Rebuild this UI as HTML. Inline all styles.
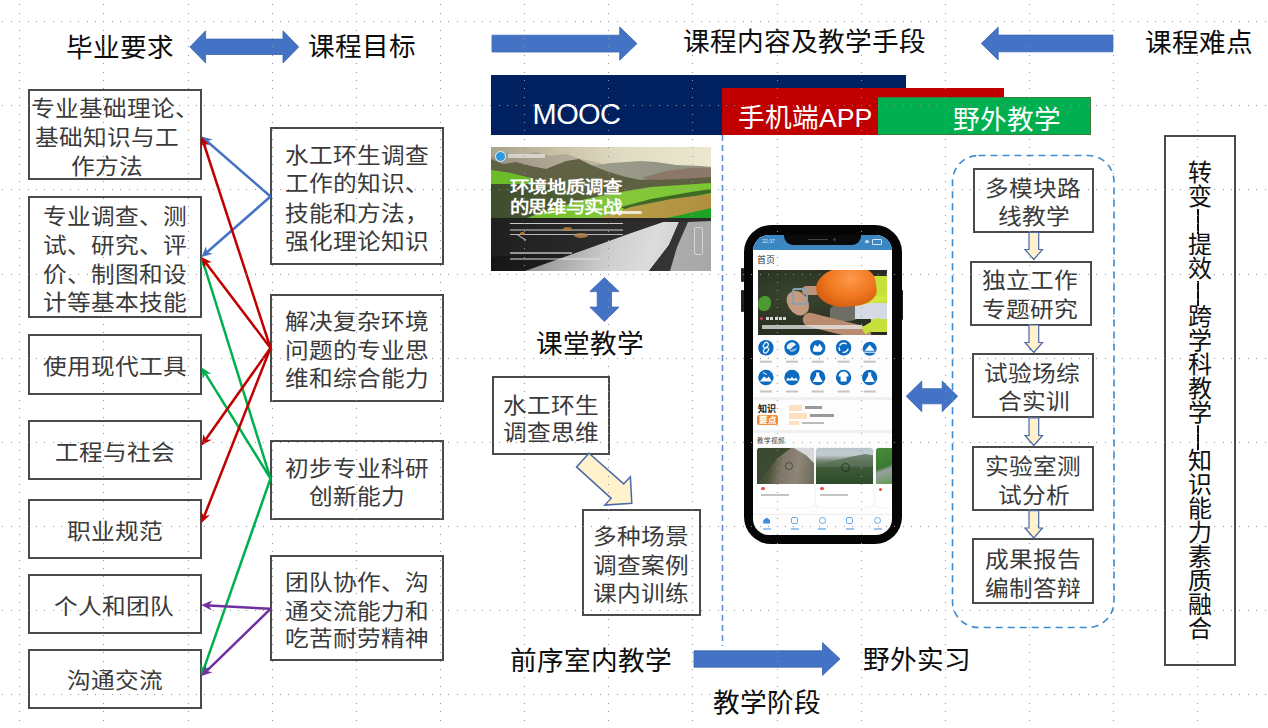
<!DOCTYPE html>
<html lang="zh-CN"><head><meta charset="utf-8"><title>课程设计</title>
<style>
html,body{margin:0;padding:0;background:#fff;width:1268px;height:728px;overflow:hidden}
body{position:relative;font-family:'Liberation Sans',sans-serif}
.t{position:absolute;line-height:1;white-space:nowrap}
</style></head><body>
<div class="t" style="left:66.0px;top:34.5px;font-size:26.67px;font-family:'Liberation Sans',sans-serif;color:#0d0d0d;">毕业要求</div><div class="t" style="left:308.0px;top:34.0px;font-size:26.67px;font-family:'Liberation Sans',sans-serif;color:#0d0d0d;">课程目标</div><div class="t" style="left:683.0px;top:28.5px;font-size:26.67px;font-family:'Liberation Sans',sans-serif;color:#0d0d0d;">课程内容及教学手段</div><div class="t" style="left:1145.0px;top:30.0px;font-size:26.67px;font-family:'Liberation Sans',sans-serif;color:#0d0d0d;">课程难点</div><div class="t" style="left:536.0px;top:331.0px;font-size:26.67px;font-family:'Liberation Sans',sans-serif;color:#0d0d0d;">课堂教学</div><div class="t" style="left:510.0px;top:648.0px;font-size:26.67px;font-family:'Liberation Sans',sans-serif;color:#0d0d0d;">前序室内教学</div><div class="t" style="left:863.0px;top:647.0px;font-size:26.67px;font-family:'Liberation Sans',sans-serif;color:#0d0d0d;">野外实习</div><div class="t" style="left:713.0px;top:690.0px;font-size:26.67px;font-family:'Liberation Sans',sans-serif;color:#0d0d0d;">教学阶段</div><div style="position:absolute;left:28px;top:89px;width:174px;height:91px;box-sizing:border-box;border:2px solid #4a4a4a;background:transparent"></div><div style="position:absolute;left:28px;top:196px;width:174px;height:122px;box-sizing:border-box;border:2px solid #4a4a4a;background:transparent"></div><div style="position:absolute;left:28px;top:334px;width:174px;height:61px;box-sizing:border-box;border:2px solid #4a4a4a;background:transparent"></div><div style="position:absolute;left:28px;top:420px;width:174px;height:60px;box-sizing:border-box;border:2px solid #4a4a4a;background:transparent"></div><div style="position:absolute;left:28px;top:499px;width:174px;height:60px;box-sizing:border-box;border:2px solid #4a4a4a;background:transparent"></div><div style="position:absolute;left:28px;top:574px;width:174px;height:60px;box-sizing:border-box;border:2px solid #4a4a4a;background:transparent"></div><div style="position:absolute;left:28px;top:649px;width:174px;height:60px;box-sizing:border-box;border:2px solid #4a4a4a;background:transparent"></div><div class="t" style="left:31.0px;top:97.9px;font-size:23.7px;font-family:'Liberation Serif',serif;color:#3a3a3a;transform:scaleY(0.92);transform-origin:0 11px">专业基础理论、</div><div class="t" style="left:35.2px;top:126.7px;font-size:23.7px;font-family:'Liberation Serif',serif;color:#3a3a3a;transform:scaleY(0.92);transform-origin:0 11px">基础知识与工</div><div class="t" style="left:70.8px;top:155.8px;font-size:23.7px;font-family:'Liberation Serif',serif;color:#3a3a3a;transform:scaleY(0.92);transform-origin:0 11px">作方法</div><div class="t" style="left:42.8px;top:206.1px;font-size:23.7px;font-family:'Liberation Serif',serif;color:#3a3a3a;transform:scaleY(0.92);transform-origin:0 11px">专业调查、测</div><div class="t" style="left:42.8px;top:234.6px;font-size:23.7px;font-family:'Liberation Serif',serif;color:#3a3a3a;transform:scaleY(0.92);transform-origin:0 11px">试、研究、评</div><div class="t" style="left:42.8px;top:263.7px;font-size:23.7px;font-family:'Liberation Serif',serif;color:#3a3a3a;transform:scaleY(0.92);transform-origin:0 11px">价、制图和设</div><div class="t" style="left:42.8px;top:292.3px;font-size:23.7px;font-family:'Liberation Serif',serif;color:#3a3a3a;transform:scaleY(0.92);transform-origin:0 11px">计等基本技能</div><div class="t" style="left:43.0px;top:356.1px;font-size:23.7px;font-family:'Liberation Serif',serif;color:#3a3a3a;transform:scaleY(0.92);transform-origin:0 11px">使用现代工具</div><div class="t" style="left:55.1px;top:441.8px;font-size:23.7px;font-family:'Liberation Serif',serif;color:#3a3a3a;transform:scaleY(0.92);transform-origin:0 11px">工程与社会</div><div class="t" style="left:66.6px;top:520.6px;font-size:23.7px;font-family:'Liberation Serif',serif;color:#3a3a3a;transform:scaleY(0.92);transform-origin:0 11px">职业规范</div><div class="t" style="left:54.2px;top:596.3px;font-size:23.7px;font-family:'Liberation Serif',serif;color:#3a3a3a;transform:scaleY(0.92);transform-origin:0 11px">个人和团队</div><div class="t" style="left:66.6px;top:669.6px;font-size:23.7px;font-family:'Liberation Serif',serif;color:#3a3a3a;transform:scaleY(0.92);transform-origin:0 11px">沟通交流</div><div style="position:absolute;left:270px;top:127px;width:174px;height:138px;box-sizing:border-box;border:2px solid #4a4a4a;background:transparent"></div><div style="position:absolute;left:270px;top:294px;width:174px;height:108px;box-sizing:border-box;border:2px solid #4a4a4a;background:transparent"></div><div style="position:absolute;left:270px;top:440px;width:174px;height:80px;box-sizing:border-box;border:2px solid #4a4a4a;background:transparent"></div><div style="position:absolute;left:270px;top:555px;width:174px;height:106px;box-sizing:border-box;border:2px solid #4a4a4a;background:transparent"></div><div class="t" style="left:284.8px;top:145.2px;font-size:23.7px;font-family:'Liberation Serif',serif;color:#3a3a3a;transform:scaleY(0.92);transform-origin:0 11px">水工环生调查</div><div class="t" style="left:284.8px;top:173.4px;font-size:23.7px;font-family:'Liberation Serif',serif;color:#3a3a3a;transform:scaleY(0.92);transform-origin:0 11px">工作的知识、</div><div class="t" style="left:284.8px;top:202.5px;font-size:23.7px;font-family:'Liberation Serif',serif;color:#3a3a3a;transform:scaleY(0.92);transform-origin:0 11px">技能和方法，</div><div class="t" style="left:284.8px;top:230.8px;font-size:23.7px;font-family:'Liberation Serif',serif;color:#3a3a3a;transform:scaleY(0.92);transform-origin:0 11px">强化理论知识</div><div class="t" style="left:284.8px;top:310.7px;font-size:23.7px;font-family:'Liberation Serif',serif;color:#3a3a3a;transform:scaleY(0.92);transform-origin:0 11px">解决复杂环境</div><div class="t" style="left:284.8px;top:339.6px;font-size:23.7px;font-family:'Liberation Serif',serif;color:#3a3a3a;transform:scaleY(0.92);transform-origin:0 11px">问题的专业思</div><div class="t" style="left:284.8px;top:368.0px;font-size:23.7px;font-family:'Liberation Serif',serif;color:#3a3a3a;transform:scaleY(0.92);transform-origin:0 11px">维和综合能力</div><div class="t" style="left:285.4px;top:457.7px;font-size:23.7px;font-family:'Liberation Serif',serif;color:#3a3a3a;transform:scaleY(0.92);transform-origin:0 11px">初步专业科研</div><div class="t" style="left:309.4px;top:486.1px;font-size:23.7px;font-family:'Liberation Serif',serif;color:#3a3a3a;transform:scaleY(0.92);transform-origin:0 11px">创新能力</div><div class="t" style="left:285.4px;top:571.5px;font-size:23.7px;font-family:'Liberation Serif',serif;color:#3a3a3a;transform:scaleY(0.92);transform-origin:0 11px">团队协作、沟</div><div class="t" style="left:285.4px;top:600.5px;font-size:23.7px;font-family:'Liberation Serif',serif;color:#3a3a3a;transform:scaleY(0.92);transform-origin:0 11px">通交流能力和</div><div class="t" style="left:285.4px;top:628.4px;font-size:23.7px;font-family:'Liberation Serif',serif;color:#3a3a3a;transform:scaleY(0.92);transform-origin:0 11px">吃苦耐劳精神</div><div style="position:absolute;left:492px;top:376px;width:118px;height:79px;box-sizing:border-box;border:2px solid #4a4a4a;background:transparent"></div><div class="t" style="left:503.1px;top:394.7px;font-size:23.7px;font-family:'Liberation Serif',serif;color:#3a3a3a;transform:scaleY(0.92);transform-origin:0 11px">水工环生</div><div class="t" style="left:503.1px;top:422.4px;font-size:23.7px;font-family:'Liberation Serif',serif;color:#3a3a3a;transform:scaleY(0.92);transform-origin:0 11px">调查思维</div><div style="position:absolute;left:582px;top:509px;width:119px;height:107px;box-sizing:border-box;border:2px solid #4a4a4a;background:transparent"></div><div class="t" style="left:593.2px;top:525.9px;font-size:23.7px;font-family:'Liberation Serif',serif;color:#3a3a3a;transform:scaleY(0.92);transform-origin:0 11px">多种场景</div><div class="t" style="left:593.2px;top:554.9px;font-size:23.7px;font-family:'Liberation Serif',serif;color:#3a3a3a;transform:scaleY(0.92);transform-origin:0 11px">调查案例</div><div class="t" style="left:593.2px;top:582.8px;font-size:23.7px;font-family:'Liberation Serif',serif;color:#3a3a3a;transform:scaleY(0.92);transform-origin:0 11px">课内训练</div><div style="position:absolute;left:973px;top:168px;width:121px;height:65px;box-sizing:border-box;border:2px solid #4a4a4a;background:transparent"></div><div style="position:absolute;left:970px;top:261px;width:122px;height:65px;box-sizing:border-box;border:2px solid #4a4a4a;background:transparent"></div><div style="position:absolute;left:972px;top:353px;width:122px;height:65px;box-sizing:border-box;border:2px solid #4a4a4a;background:transparent"></div><div style="position:absolute;left:972px;top:446px;width:122px;height:65px;box-sizing:border-box;border:2px solid #4a4a4a;background:transparent"></div><div style="position:absolute;left:972px;top:538px;width:122px;height:66px;box-sizing:border-box;border:2px solid #4a4a4a;background:transparent"></div><div class="t" style="left:985.2px;top:178.0px;font-size:23.7px;font-family:'Liberation Serif',serif;color:#3a3a3a;transform:scaleY(0.92);transform-origin:0 11px">多模块路</div><div class="t" style="left:997.6px;top:205.5px;font-size:23.7px;font-family:'Liberation Serif',serif;color:#3a3a3a;transform:scaleY(0.92);transform-origin:0 11px">线教学</div><div class="t" style="left:982.4px;top:270.1px;font-size:23.7px;font-family:'Liberation Serif',serif;color:#3a3a3a;transform:scaleY(0.92);transform-origin:0 11px">独立工作</div><div class="t" style="left:982.4px;top:299.0px;font-size:23.7px;font-family:'Liberation Serif',serif;color:#3a3a3a;transform:scaleY(0.92);transform-origin:0 11px">专题研究</div><div class="t" style="left:984.3px;top:363.0px;font-size:23.7px;font-family:'Liberation Serif',serif;color:#3a3a3a;transform:scaleY(0.92);transform-origin:0 11px">试验场综</div><div class="t" style="left:997.8px;top:390.7px;font-size:23.7px;font-family:'Liberation Serif',serif;color:#3a3a3a;transform:scaleY(0.92);transform-origin:0 11px">合实训</div><div class="t" style="left:984.7px;top:455.8px;font-size:23.7px;font-family:'Liberation Serif',serif;color:#3a3a3a;transform:scaleY(0.92);transform-origin:0 11px">实验室测</div><div class="t" style="left:998.0px;top:484.9px;font-size:23.7px;font-family:'Liberation Serif',serif;color:#3a3a3a;transform:scaleY(0.92);transform-origin:0 11px">试分析</div><div class="t" style="left:984.7px;top:548.6px;font-size:23.7px;font-family:'Liberation Serif',serif;color:#3a3a3a;transform:scaleY(0.92);transform-origin:0 11px">成果报告</div><div class="t" style="left:984.7px;top:577.7px;font-size:23.7px;font-family:'Liberation Serif',serif;color:#3a3a3a;transform:scaleY(0.92);transform-origin:0 11px">编制答辩</div><div style="position:absolute;left:1164px;top:135px;width:72px;height:531px;box-sizing:border-box;border:2px solid #4a4a4a;background:transparent"></div><div class="t" style="left:1188.0px;top:161.0px;font-size:24px;font-family:'Liberation Sans',sans-serif;color:#111;">转</div><div class="t" style="left:1188.0px;top:185.0px;font-size:24px;font-family:'Liberation Sans',sans-serif;color:#111;">变</div><div style="position:absolute;left:1196.6px;top:208.5px;width:2px;height:25.5px;background:#111"></div><div class="t" style="left:1188.0px;top:233.0px;font-size:24px;font-family:'Liberation Sans',sans-serif;color:#111;">提</div><div class="t" style="left:1188.0px;top:257.0px;font-size:24px;font-family:'Liberation Sans',sans-serif;color:#111;">效</div><div style="position:absolute;left:1196.6px;top:280.5px;width:2px;height:25.5px;background:#111"></div><div class="t" style="left:1188.0px;top:305.0px;font-size:24px;font-family:'Liberation Sans',sans-serif;color:#111;">跨</div><div class="t" style="left:1188.0px;top:329.0px;font-size:24px;font-family:'Liberation Sans',sans-serif;color:#111;">学</div><div class="t" style="left:1188.0px;top:353.0px;font-size:24px;font-family:'Liberation Sans',sans-serif;color:#111;">科</div><div class="t" style="left:1188.0px;top:377.0px;font-size:24px;font-family:'Liberation Sans',sans-serif;color:#111;">教</div><div class="t" style="left:1188.0px;top:401.0px;font-size:24px;font-family:'Liberation Sans',sans-serif;color:#111;">学</div><div style="position:absolute;left:1196.6px;top:424.5px;width:2px;height:25.5px;background:#111"></div><div class="t" style="left:1188.0px;top:449.0px;font-size:24px;font-family:'Liberation Sans',sans-serif;color:#111;">知</div><div class="t" style="left:1188.0px;top:473.0px;font-size:24px;font-family:'Liberation Sans',sans-serif;color:#111;">识</div><div class="t" style="left:1188.0px;top:497.0px;font-size:24px;font-family:'Liberation Sans',sans-serif;color:#111;">能</div><div class="t" style="left:1188.0px;top:521.0px;font-size:24px;font-family:'Liberation Sans',sans-serif;color:#111;">力</div><div class="t" style="left:1188.0px;top:545.0px;font-size:24px;font-family:'Liberation Sans',sans-serif;color:#111;">素</div><div class="t" style="left:1188.0px;top:569.0px;font-size:24px;font-family:'Liberation Sans',sans-serif;color:#111;">质</div><div class="t" style="left:1188.0px;top:593.0px;font-size:24px;font-family:'Liberation Sans',sans-serif;color:#111;">融</div><div class="t" style="left:1188.0px;top:617.0px;font-size:24px;font-family:'Liberation Sans',sans-serif;color:#111;">合</div><div style="position:absolute;left:490.7px;top:75.3px;width:415.8px;height:59.4px;background:#002060"></div><div style="position:absolute;left:721.5px;top:87.6px;width:282.3px;height:47.1px;background:#C00000"></div><div style="position:absolute;left:878px;top:96.8px;width:212.8px;height:37.9px;background:#00B050;box-sizing:border-box;border:1px solid #3d7d3a;border-left:none"></div><div class="t" style="left:532.6px;top:99.6px;font-size:29px;font-family:'Liberation Sans',sans-serif;color:#fff;letter-spacing:-0.6px">MOOC</div><div class="t" style="left:738.0px;top:104.5px;font-size:26.67px;font-family:'Liberation Sans',sans-serif;color:#fff;">手机端APP</div><div class="t" style="left:953.0px;top:107.0px;font-size:26.67px;font-family:'Liberation Sans',sans-serif;color:#fff;">野外教学</div>
<div style="position:absolute;left:491px;top:147px;width:220px;height:124px;overflow:hidden;background:#2a2a2a">
 <div style="position:absolute;left:0;top:0;width:220px;height:40px;background:linear-gradient(90deg,#a9a28c 0%,#c9c0a6 30%,#e0dcc4 60%,#ece8d0 100%)"></div>
 <div style="position:absolute;left:0;top:0;width:220px;height:124px;background:linear-gradient(90deg,#9a9282,#c6bca8 60%,#b8b2a0);clip-path:polygon(0.0px 10.0px,15.0px 6.0px,30.0px 8.0px,45.0px 5.0px,60.0px 9.0px,75.0px 7.0px,90.0px 12.0px,110.0px 16.0px,110.0px 30.0px,0.0px 30.0px);"></div>
 <div style="position:absolute;left:0;top:0;width:220px;height:124px;background:linear-gradient(90deg,#a8a692,#9a9a8a 60%,#8e8e80);clip-path:polygon(90.0px 20.0px,120.0px 16.0px,150.0px 14.0px,165.0px 15.0px,185.0px 18.0px,210.0px 19.0px,220.0px 20.0px,220.0px 40.0px,90.0px 40.0px);"></div>
 <div style="position:absolute;left:0;top:0;width:220px;height:124px;background:linear-gradient(#646446 0%,#5a6040 40%,#4e5a36 100%);clip-path:polygon(0.0px 12.0px,12.0px 17.0px,25.0px 15.0px,40.0px 19.0px,55.0px 22.0px,75.0px 14.0px,88.0px 12.0px,100.0px 18.0px,115.0px 24.0px,135.0px 30.0px,150.0px 33.0px,175.0px 31.0px,200.0px 28.0px,220.0px 30.0px,220.0px 74.0px,0.0px 74.0px);"></div>
 <div style="position:absolute;left:0;top:0;width:220px;height:124px;background:#8c7868;clip-path:polygon(150.0px 31.0px,175.0px 24.0px,200.0px 21.0px,220.0px 21.0px,220.0px 30.0px,190.0px 32.0px,165.0px 33.0px);"></div>
 <div style="position:absolute;left:0;top:0;width:220px;height:124px;background:#6cbc2a;clip-path:polygon(0.0px 23.0px,20.0px 26.0px,40.0px 31.0px,44.0px 37.0px,0.0px 37.0px);"></div>
 <div style="position:absolute;left:0;top:0;width:220px;height:124px;background:linear-gradient(90deg,#3e4c2c,#56643a 50%,#6a7a34);clip-path:polygon(0.0px 37.0px,44.0px 37.0px,80.0px 45.0px,120.0px 52.0px,120.0px 72.0px,0.0px 71.0px);"></div>
 <div style="position:absolute;left:0;top:0;width:220px;height:124px;background:linear-gradient(90deg,#6cb82c,#84c83a 60%,#7cc634);clip-path:polygon(28.0px 74.0px,60.0px 62.0px,95.0px 52.0px,130.0px 45.0px,160.0px 40.0px,220.0px 36.0px,220.0px 74.0px);"></div>
 <div style="position:absolute;left:0;top:0;width:220px;height:124px;background:#3e6a26;clip-path:polygon(130.0px 60.0px,160.0px 52.0px,200.0px 45.0px,220.0px 42.0px,220.0px 46.0px,200.0px 50.0px,165.0px 57.0px,135.0px 63.0px);"></div>
 <div style="position:absolute;left:0;top:0;width:220px;height:124px;background:linear-gradient(90deg,#a89a3e,#b8a048 50%,#b09040);clip-path:polygon(100.0px 74.0px,140.0px 60.0px,180.0px 52.0px,220.0px 47.0px,220.0px 66.0px,190.0px 72.0px,170.0px 75.0px);"></div>
 <div style="position:absolute;left:0;top:0;width:220px;height:124px;background:#1ea424;clip-path:polygon(160.0px 74.0px,190.0px 68.0px,220.0px 61.0px,220.0px 74.0px);"></div>
 <div style="position:absolute;left:0;top:71px;width:220px;height:53px;background:linear-gradient(90deg,#161616,#232323 45%,#2e2e2e)"></div>
 <div style="position:absolute;left:0;top:0;width:220px;height:124px;background:linear-gradient(110deg,#5a5a5a 0%,#9a9a9a 35%,#cfcfcf 60%,#dcdcdc 75%,#bdbdbd 100%);clip-path:polygon(34.0px 124.0px,158.0px 124.0px,178.0px 98.0px,188.0px 75.0px,172.0px 75.0px,140.0px 86.0px,90.0px 104.0px);"></div>
 <div style="position:absolute;left:0;top:0;width:220px;height:124px;background:linear-gradient(90deg,#1c1c1c,#3a3a3a);clip-path:polygon(158.0px 124.0px,179.0px 124.0px,186.0px 100.0px,197.0px 75.0px,188.0px 75.0px,178.0px 98.0px);"></div>
 <div style="position:absolute;left:0;top:0;width:220px;height:124px;background:linear-gradient(100deg,#8a8a8a,#b4b4b4 50%,#a8a8a8);clip-path:polygon(179.0px 124.0px,220.0px 124.0px,220.0px 74.0px,197.0px 75.0px,186.0px 100.0px);"></div>
 <div style="position:absolute;left:0;top:0;width:220px;height:124px;background:linear-gradient(90deg,#262626,#353535);clip-path:polygon(0.0px 71.0px,172.0px 75.0px,140.0px 86.0px,90.0px 104.0px,0.0px 110.0px);opacity:.6"></div>
 <div style="position:absolute;left:4px;top:4px;width:9px;height:9px;border-radius:50%;background:#2f9ad8;border:1px solid #e8f4ff"></div>
 <div style="position:absolute;left:16.5px;top:7px;width:37px;height:4px;background:rgba(255,255,255,.55)"></div>
 <div style="position:absolute;left:18.5px;top:30.5px;font-family:'Liberation Sans',sans-serif;font-size:19.4px;line-height:22.6px;font-weight:bold;color:#fff;white-space:nowrap;letter-spacing:-0.3px;transform:scaleY(0.86);transform-origin:0 0">环境地质调查<br>的思维与实战</div>
 <div style="position:absolute;left:121px;top:64px;width:30px;height:2.5px;background:rgba(255,255,255,.75);border-radius:2px"></div>
 <div style="position:absolute;left:19px;top:76px;width:113px;height:1px;background:#c8c8c8"></div>
 <div style="position:absolute;left:19px;top:81.5px;width:113px;height:2px;background:rgba(210,210,210,.5)"></div>
 <div style="position:absolute;left:19px;top:87px;width:113px;height:1px;background:#b8b8b8"></div>
 <div style="position:absolute;left:26px;top:87px;width:11px;height:1px;background:#bbb;transform:rotate(32deg);transform-origin:0 0"></div>
 <div style="position:absolute;left:19px;top:105px;width:62px;height:2px;background:rgba(225,225,225,.6)"></div>
 <div style="position:absolute;left:19px;top:110.5px;width:90px;height:2px;background:rgba(225,225,225,.5)"></div>
 <div style="position:absolute;left:203px;top:80px;width:7px;height:26px;border:1px solid rgba(235,235,235,.65);border-radius:2px"></div>
 <div style="position:absolute;left:72px;top:80px;width:9px;height:4px;background:#b88040;border-radius:50%;opacity:.8"></div>
 <div style="position:absolute;left:83px;top:86px;width:14px;height:5px;background:#c08a48;border-radius:50%;opacity:.8"></div>
 <div style="position:absolute;left:29px;top:85px;width:5px;height:3px;background:#b88040;border-radius:50%"></div>
</div>

<div style="position:absolute;left:741px;top:268px;width:3px;height:14px;background:#222;border-radius:1px"></div>
<div style="position:absolute;left:741px;top:290px;width:3px;height:22px;background:#222;border-radius:1px"></div>
<div style="position:absolute;left:900px;top:290px;width:3px;height:30px;background:#222;border-radius:1px"></div>
<div style="position:absolute;left:743.5px;top:224.7px;width:158px;height:319.5px;border-radius:27px;background:#050505"></div>
<div style="position:absolute;left:753.3px;top:234.5px;width:138.4px;height:300.8px;border-radius:16px;background:#fdfdfd;overflow:hidden">
 <div style="position:absolute;left:0;top:0;width:139px;height:15.5px;background:#3b87c2"></div>
 <div style="position:absolute;left:31px;top:-2px;width:77px;height:12.7px;background:#0a0a0a;border-radius:0 0 9px 9px"></div>
 <div style="position:absolute;left:55px;top:4px;width:20px;height:1.5px;background:#444"></div>
 <div style="position:absolute;left:80px;top:3px;width:3px;height:3px;border-radius:50%;background:#335"></div>
 <div style="position:absolute;left:9px;top:4px;font-family:'Liberation Sans',sans-serif;font-size:5px;line-height:1;color:rgba(255,255,255,.85);white-space:nowrap">22:37</div>
 <div style="position:absolute;left:112px;top:5px;width:4px;height:3px;border-radius:3px 3px 0 0;background:rgba(255,255,255,.7)"></div><div style="position:absolute;left:119px;top:4.5px;width:8px;height:4px;border:0.8px solid rgba(255,255,255,.8);border-radius:1px"></div>
 <div style="position:absolute;left:4px;top:21px;font-family:'Liberation Sans',sans-serif;font-size:9px;line-height:1;color:#333;white-space:nowrap">首页</div>
 <div style="position:absolute;left:4.4px;top:35.6px;width:129.3px;height:64.7px;overflow:hidden;background:radial-gradient(ellipse at 30% 40%,#3a4630,#2a3222 60%,#252b20)">
  <div style="position:absolute;left:0;top:26px;width:13px;height:15px;background:#4c9a32;border-radius:50% 40% 50% 40%"></div>
  <div style="position:absolute;left:72px;top:35px;width:28px;height:16px;background:#6e6e66;border-radius:30%"></div>
  <div style="position:absolute;left:45px;top:41px;width:70px;height:14px;background:#b98c72;border-radius:8px;transform:rotate(14deg);transform-origin:0 50%"></div>
  <div style="position:absolute;left:30px;top:20px;width:20px;height:26px;background:#c49a80;border-radius:45% 55% 50% 50%;transform:rotate(-30deg)"></div>
  <div style="position:absolute;left:44px;top:16px;width:18px;height:9px;background:#c09478;border-radius:5px"></div>
  <div style="position:absolute;left:34px;top:18px;width:12px;height:13px;border:2px solid #8aa0b0;border-radius:3px"></div>
  <div style="position:absolute;left:113px;top:6px;width:17px;height:56px;background:#c6e03c"></div>
  <div style="position:absolute;left:97px;top:33px;width:33px;height:16px;background:#d6dae6"></div>
  <div style="position:absolute;left:96px;top:28px;width:34px;height:5px;background:#d0e840;transform:rotate(-12deg)"></div>
  <div style="position:absolute;left:104px;top:52px;width:20px;height:8px;background:#c6e03c;transform:rotate(-30deg)"></div>
  <div style="position:absolute;left:58px;top:-3px;width:60px;height:40px;border-radius:50% 45% 35% 55%;background:radial-gradient(ellipse at 60% 30%,#ff9a4a,#f07820 45%,#d05a10 80%);transform:rotate(-8deg)"></div>
  <div style="position:absolute;left:2px;top:47px;width:3px;height:3px;border-radius:50%;background:#e04050"></div>
  <div style="position:absolute;left:8px;top:47px;width:20px;height:3px;background:repeating-linear-gradient(90deg,rgba(255,255,255,.8) 0 3px,transparent 3px 4.3px)"></div>
  <div style="position:absolute;left:4px;top:55px;width:100px;height:4px;background:rgba(235,235,235,.75)"></div>
 </div>
<svg width="139" height="160" style="position:absolute;left:0;top:0"><circle cx="12.9" cy="112.7" r="7.7" fill="#0b6bc0"/><g transform="translate(12.9,112.7)"><g fill="none" stroke="#fff" stroke-width="1.3" opacity=".9"><rect x="-3.5" y="-5" width="4" height="6" rx="2" transform="rotate(35)"/><rect x="-0.5" y="-1" width="4" height="6" rx="2" transform="rotate(35)"/></g></g><rect x="6.9" y="125.7" width="12" height="2" fill="#c4c4c4"/><circle cx="39.0" cy="112.7" r="7.7" fill="#0b6bc0"/><g transform="translate(39.0,112.7)"><g fill="#fff" opacity=".9"><path d="M-5 1 A5 5 0 0 1 4 -3 L1 -1 L-2 2 Z"/><path d="M-3 3 A5 5 0 0 0 5 0 L2 1 Z" opacity=".6"/></g></g><rect x="33.0" y="125.7" width="12" height="2" fill="#c4c4c4"/><circle cx="64.7" cy="112.7" r="7.7" fill="#0b6bc0"/><g transform="translate(64.7,112.7)"><path d="M-5 2 L-3 -3 L0 -1 L2 -4 L5 1 L3 4 L-4 4 Z" fill="#fff"/></g><rect x="58.7" y="125.7" width="12" height="2" fill="#c4c4c4"/><circle cx="90.6" cy="112.7" r="7.7" fill="#0b6bc0"/><g transform="translate(90.6,112.7)"><g fill="none" stroke="#fff" stroke-width="1.4"><path d="M-4 -2 A4.5 4.5 0 0 1 3 -3.5"/><path d="M4.5 1 A4.5 4.5 0 0 1 -1 4.5"/><path d="M-3.5 3 A4.5 4.5 0 0 1 -4.5 -0.5"/></g></g><rect x="84.6" y="125.7" width="12" height="2" fill="#c4c4c4"/><circle cx="116.7" cy="113.7" r="7.0" fill="#0b6bc0"/><g transform="translate(116.7,113.7)"><g fill="#fff"><path d="M-5 2 L0 -4 L5 2 Z"/><rect x="-6" y="3" width="12" height="1"/></g></g><rect x="110.7" y="125.7" width="12" height="2" fill="#c4c4c4"/><circle cx="12.9" cy="142.5" r="7.7" fill="#0b6bc0"/><g transform="translate(12.9,142.5)"><g fill="#fff"><path d="M-6 4 L-2 -1 L1 1 L3 -1 L6 4 Z"/><path d="M-3 -5 L1 -3" stroke="#fff" stroke-width="1"/></g></g><rect x="6.9" y="155.5" width="12" height="2" fill="#c4c4c4"/><circle cx="39.0" cy="142.5" r="7.7" fill="#0b6bc0"/><g transform="translate(39.0,142.5)"><path d="M-6 3 Q-4 -2 -2 2 Q0 -3 2 2 Q4 -2 6 3 Z" fill="#fff"/></g><rect x="33.0" y="155.5" width="12" height="2" fill="#c4c4c4"/><circle cx="64.7" cy="142.5" r="7.7" fill="#0b6bc0"/><g transform="translate(64.7,142.5)"><path d="M-1.5 -5 h3 v3 L5 4.5 h-10 L-1.5 -2 Z" fill="#fff"/></g><rect x="58.7" y="155.5" width="12" height="2" fill="#c4c4c4"/><circle cx="90.6" cy="142.5" r="7.7" fill="#0b6bc0"/><g transform="translate(90.6,142.5)"><g fill="#fff"><path d="M-5 -1 A5 5 0 0 1 5 -1 L3 -1 L3 4 L-3 4 L-3 -1 Z"/></g></g><rect x="84.6" y="155.5" width="12" height="2" fill="#c4c4c4"/><circle cx="116.7" cy="142.5" r="7.7" fill="#0b6bc0"/><g transform="translate(116.7,142.5)"><path d="M-1.5 -5 h3 v3 L5 4.5 h-10 L-1.5 -2 Z" fill="#fff"/></g><rect x="110.7" y="155.5" width="12" height="2" fill="#c4c4c4"/></svg>
 <div style="position:absolute;left:0;top:162px;width:139px;height:3px;background:#eef0f3"></div>
 <div style="position:absolute;left:5px;top:170px;font-family:'Liberation Sans',sans-serif;font-size:9px;font-weight:bold;line-height:1;color:#222;white-space:nowrap">知识</div>
 <div style="position:absolute;left:4px;top:180px;width:21px;height:10px;background:#f08a30;border-radius:2px"></div><div style="position:absolute;left:6px;top:181px;font-family:'Liberation Sans',sans-serif;font-size:8.5px;font-weight:bold;line-height:1;color:#fff;white-space:nowrap">要点</div>
 <div style="position:absolute;left:36px;top:170px;width:13px;height:6px;background:#fde0c0"></div>
 <div style="position:absolute;left:52px;top:171px;width:17px;height:3px;background:#999"></div>
 <div style="position:absolute;left:36px;top:178px;width:18px;height:6px;background:#fde0c0"></div>
 <div style="position:absolute;left:57px;top:179px;width:24px;height:3px;background:#999"></div>
 <div style="position:absolute;left:36px;top:186px;width:10px;height:4px;background:#fde0c0"></div>
 <div style="position:absolute;left:49px;top:187px;width:22px;height:2px;background:#bbb"></div>
 <div style="position:absolute;left:0;top:195px;width:139px;height:3px;background:#eef0f3"></div>
 <div style="position:absolute;left:4px;top:203px;font-family:'Liberation Sans',sans-serif;font-size:6.5px;line-height:1;color:#444;white-space:nowrap">教学视频</div>
 <div style="position:absolute;left:4.2px;top:213px;width:56.5px;height:59px;border-radius:3px;background:#fff;box-shadow:0 0 1px #bbb;overflow:hidden">
  <div style="position:absolute;left:0;top:0;width:57px;height:36px;background:linear-gradient(100deg,#3a4630 0%,#4a5238 25%,#7f766a 45%,#8e8678 70%,#6a6a5a 100%)"></div>
  <div style="position:absolute;left:0;top:0;width:57px;height:36px;background:#3c4a32;clip-path:polygon(0 0,60% 0,35% 30%,20% 60%,0 100%)"></div>
  <div style="position:absolute;left:30px;top:0;width:27px;height:16px;background:#d6dadc;clip-path:polygon(20% 0,100% 0,100% 100%,70% 50%)"></div>
  <div style="position:absolute;left:28px;top:14px;width:6px;height:6px;border-radius:50%;border:1px solid rgba(40,40,40,.6)"></div>
  <div style="position:absolute;left:4px;top:39px;width:3.5px;height:3.5px;border-radius:50%;background:#f05050"></div>
  <div style="position:absolute;left:4px;top:46px;width:28px;height:2px;background:#c4c4c4"></div>
 </div>
 <div style="position:absolute;left:63.2px;top:213px;width:56.5px;height:59px;border-radius:3px;background:#fff;box-shadow:0 0 1px #bbb;overflow:hidden">
  <div style="position:absolute;left:0;top:0;width:57px;height:36px;background:linear-gradient(#b8c4cc 0%,#c4ccd0 20%,#7a8a78 35%,#3e5a38 55%,#2c4a28 100%)"></div>
  <div style="position:absolute;left:0;top:5px;width:57px;height:14px;background:#5a7058;clip-path:polygon(0 90%,30% 60%,60% 30%,85% 10%,100% 20%,100% 100%,0 100%);opacity:.8"></div>
  <div style="position:absolute;left:25px;top:15px;width:7px;height:7px;border-radius:50%;border:1px solid rgba(20,20,20,.6)"></div>
  <div style="position:absolute;left:4px;top:39px;width:3.5px;height:3.5px;border-radius:50%;background:#f05050"></div>
  <div style="position:absolute;left:4px;top:46px;width:28px;height:2px;background:#c4c4c4"></div>
 </div>
 <div style="position:absolute;left:122.5px;top:213px;width:20px;height:59px;border-radius:3px;background:#fff;box-shadow:0 0 1px #bbb;overflow:hidden">
  <div style="position:absolute;left:0;top:0;width:20px;height:36px;background:linear-gradient(160deg,#4a8a3a,#3a7a30 50%,#9aa0a0 60%,#5a9a48)"></div>
  <div style="position:absolute;left:3px;top:40px;width:3px;height:3px;border-radius:50%;background:#e44"></div>
 </div>
 <div style="position:absolute;left:0;top:279px;width:139px;height:1px;background:#eee"></div>
<div style="position:absolute;left:9.9px;top:283px;width:7px;height:6px;background:#3d8ee0;clip-path:polygon(50% 0,100% 45%,100% 100%,0 100%,0 45%)"></div><div style="position:absolute;left:9.4px;top:293px;width:8px;height:2px;background:#9cc6ee"></div><div style="position:absolute;left:38.1px;top:282.5px;width:7px;height:7px;box-sizing:border-box;border:1.2px solid #6aaae8;border-radius:2px"></div><div style="position:absolute;left:37.6px;top:293px;width:8px;height:2px;background:#9cc6ee"></div><div style="position:absolute;left:65.6px;top:282.5px;width:7px;height:7px;box-sizing:border-box;border:1.2px solid #6aaae8;border-radius:50%"></div><div style="position:absolute;left:65.1px;top:293px;width:8px;height:2px;background:#9cc6ee"></div><div style="position:absolute;left:93.1px;top:282.5px;width:7px;height:7px;box-sizing:border-box;border:1.2px solid #6aaae8;border-radius:2px"></div><div style="position:absolute;left:92.6px;top:293px;width:8px;height:2px;background:#9cc6ee"></div><div style="position:absolute;left:121.1px;top:282.5px;width:7px;height:7px;box-sizing:border-box;border:1.2px solid #6aaae8;border-radius:50%"></div><div style="position:absolute;left:120.6px;top:293px;width:8px;height:2px;background:#9cc6ee"></div>
</div>
<svg width="1268" height="728" style="position:absolute;left:0;top:0"><polygon points="189.9,46.9 205.6,30.8 205.6,39.1 283.0,39.1 283.0,30.8 298.7,46.9 283.0,63.0 283.0,54.5 205.6,54.5 205.6,63.0" fill="#4472C4" stroke="#3a64b0" stroke-width="0.8" stroke-linejoin="miter"/><polygon points="492.0,35.2 619.7,35.2 619.7,27.0 637.0,43.6 619.7,60.3 619.7,52.0 492.0,52.0" fill="#4472C4" stroke="#3a64b0" stroke-width="0.8" stroke-linejoin="miter"/><polygon points="981.3,43.5 998.2,27.2 998.2,35.1 1112.9,35.1 1112.9,51.8 998.2,51.8 998.2,60.0" fill="#4472C4" stroke="#3a64b0" stroke-width="0.8" stroke-linejoin="miter"/><polygon points="604.4,277.5 619.1,291.6 611.5,291.6 611.5,307.1 619.1,307.1 604.4,321.4 589.8,307.1 597.2,307.1 597.2,291.6 589.8,291.6" fill="#4472C4" stroke="#3a64b0" stroke-width="0.8" stroke-linejoin="miter"/><polygon points="906.2,396.3 921.8,381.0 921.8,388.7 942.2,388.7 942.2,381.0 957.7,396.3 942.2,411.7 942.2,403.8 921.8,403.8 921.8,411.7" fill="#4472C4" stroke="#3a64b0" stroke-width="0.8" stroke-linejoin="miter"/><polygon points="694.0,650.8 822.5,650.8 822.5,642.6 840.0,659.0 822.5,675.4 822.5,667.2 694.0,667.2" fill="#4472C4" stroke="#3a64b0" stroke-width="0.8" stroke-linejoin="miter"/><polygon points="589.0,453.2 623.7,483.9 630.4,476.7 631.8,503.2 604.9,505.1 611.2,498.4 576.5,466.9" fill="#FFF2CC" stroke="#4a69a6" stroke-width="1.5" stroke-linejoin="miter"/><polygon points="1029.0,232.3 1038.7,232.3 1038.7,249.5 1042.5,249.5 1033.8,259.5 1025.0,249.5 1029.0,249.5" fill="#FFF2CC" stroke="#4a69a6" stroke-width="1.2" stroke-linejoin="miter"/><polygon points="1029.0,325.0 1038.7,325.0 1038.7,342.5 1042.5,342.5 1033.8,352.5 1025.0,342.5 1029.0,342.5" fill="#FFF2CC" stroke="#4a69a6" stroke-width="1.2" stroke-linejoin="miter"/><polygon points="1029.0,417.8 1038.7,417.8 1038.7,435.5 1042.5,435.5 1033.8,445.5 1025.0,435.5 1029.0,435.5" fill="#FFF2CC" stroke="#4a69a6" stroke-width="1.2" stroke-linejoin="miter"/><polygon points="1029.0,510.6 1038.7,510.6 1038.7,528.0 1042.5,528.0 1033.8,538.0 1025.0,528.0 1029.0,528.0" fill="#FFF2CC" stroke="#4a69a6" stroke-width="1.2" stroke-linejoin="miter"/><line x1="270.5" y1="478.5" x2="205.4" y2="373.7" stroke="#00B050" stroke-width="2.5"/><polygon points="201.5,367.5 211.3,373.8 205.4,373.7 202.8,379.1" fill="#00B050"/><line x1="270.5" y1="478.5" x2="203.9" y2="668.6" stroke="#00B050" stroke-width="2.5"/><polygon points="201.5,675.5 200.3,663.9 203.9,668.6 209.7,667.2" fill="#00B050"/><line x1="270.5" y1="478.5" x2="203.7" y2="264.0" stroke="#00B050" stroke-width="2.5"/><polygon points="201.5,257.0 209.4,265.5 203.7,264.0 199.8,268.5" fill="#00B050"/><line x1="270.5" y1="196.5" x2="207.0" y2="141.3" stroke="#4472C4" stroke-width="2.5"/><polygon points="201.5,136.5 212.7,139.6 207.0,141.3 206.1,147.2" fill="#4472C4"/><line x1="270.5" y1="196.5" x2="207.0" y2="252.2" stroke="#4472C4" stroke-width="2.5"/><polygon points="201.5,257.0 206.1,246.3 207.0,252.2 212.7,253.8" fill="#4472C4"/><line x1="270.5" y1="348" x2="203.8" y2="143.5" stroke="#C00000" stroke-width="2.5"/><polygon points="201.5,136.5 209.5,144.9 203.8,143.5 200.0,148.0" fill="#C00000"/><line x1="270.5" y1="348" x2="205.9" y2="262.9" stroke="#C00000" stroke-width="2.5"/><polygon points="201.5,257.0 211.8,262.3 205.9,262.9 203.9,268.4" fill="#C00000"/><line x1="270.5" y1="348" x2="205.7" y2="439.5" stroke="#C00000" stroke-width="2.5"/><polygon points="201.5,445.5 203.5,434.0 205.7,439.5 211.6,439.8" fill="#C00000"/><line x1="270.5" y1="348" x2="204.2" y2="516.2" stroke="#C00000" stroke-width="2.5"/><polygon points="201.5,523.0 200.7,511.4 204.2,516.2 210.0,515.1" fill="#C00000"/><line x1="270.5" y1="608.8" x2="208.8" y2="605.4" stroke="#7030A0" stroke-width="2.5"/><polygon points="201.5,605.0 212.3,600.6 208.8,605.4 211.7,610.6" fill="#7030A0"/><line x1="270.5" y1="608.8" x2="206.8" y2="670.9" stroke="#7030A0" stroke-width="2.5"/><polygon points="201.5,676.0 205.5,665.1 206.8,670.9 212.5,672.3" fill="#7030A0"/><line x1="722.5" y1="135" x2="722.5" y2="646" stroke="#5b8fd6" stroke-width="1.6" stroke-dasharray="6 4"/><rect x="952.5" y="155.5" width="161.5" height="472" rx="26" ry="26" fill="none" stroke="#3b8bd0" stroke-width="1.6" stroke-dasharray="7 5"/></svg><svg width="1268" height="728" style="position:absolute;left:0;top:0;pointer-events:none" shape-rendering="crispEdges"><path d="M2 21h1v1h-1zM2 105h1v1h-1zM2 189h1v1h-1zM2 274h1v1h-1zM2 358h1v1h-1zM2 442h1v1h-1zM2 526h1v1h-1zM2 610h1v1h-1zM2 694h1v1h-1zM11 21h1v1h-1zM11 105h1v1h-1zM11 189h1v1h-1zM11 274h1v1h-1zM11 358h1v1h-1zM11 442h1v1h-1zM11 526h1v1h-1zM11 610h1v1h-1zM11 694h1v1h-1zM19 4h1v1h-1zM19 13h1v1h-1zM19 21h1v1h-1zM19 30h1v1h-1zM19 38h1v1h-1zM19 46h1v1h-1zM19 55h1v1h-1zM19 63h1v1h-1zM19 72h1v1h-1zM19 80h1v1h-1zM19 88h1v1h-1zM19 97h1v1h-1zM19 105h1v1h-1zM19 114h1v1h-1zM19 122h1v1h-1zM19 130h1v1h-1zM19 139h1v1h-1zM19 147h1v1h-1zM19 156h1v1h-1zM19 164h1v1h-1zM19 173h1v1h-1zM19 181h1v1h-1zM19 189h1v1h-1zM19 198h1v1h-1zM19 206h1v1h-1zM19 215h1v1h-1zM19 223h1v1h-1zM19 231h1v1h-1zM19 240h1v1h-1zM19 248h1v1h-1zM19 257h1v1h-1zM19 265h1v1h-1zM19 274h1v1h-1zM19 282h1v1h-1zM19 290h1v1h-1zM19 299h1v1h-1zM19 307h1v1h-1zM19 316h1v1h-1zM19 324h1v1h-1zM19 332h1v1h-1zM19 341h1v1h-1zM19 349h1v1h-1zM19 358h1v1h-1zM19 366h1v1h-1zM19 375h1v1h-1zM19 383h1v1h-1zM19 391h1v1h-1zM19 400h1v1h-1zM19 408h1v1h-1zM19 417h1v1h-1zM19 425h1v1h-1zM19 433h1v1h-1zM19 442h1v1h-1zM19 450h1v1h-1zM19 459h1v1h-1zM19 467h1v1h-1zM19 476h1v1h-1zM19 484h1v1h-1zM19 492h1v1h-1zM19 501h1v1h-1zM19 509h1v1h-1zM19 518h1v1h-1zM19 526h1v1h-1zM19 534h1v1h-1zM19 543h1v1h-1zM19 551h1v1h-1zM19 560h1v1h-1zM19 568h1v1h-1zM19 576h1v1h-1zM19 585h1v1h-1zM19 593h1v1h-1zM19 602h1v1h-1zM19 610h1v1h-1zM19 619h1v1h-1zM19 627h1v1h-1zM19 635h1v1h-1zM19 644h1v1h-1zM19 652h1v1h-1zM19 661h1v1h-1zM19 669h1v1h-1zM19 677h1v1h-1zM19 686h1v1h-1zM19 694h1v1h-1zM19 703h1v1h-1zM19 711h1v1h-1zM19 720h1v1h-1zM28 21h1v1h-1zM28 105h1v1h-1zM28 189h1v1h-1zM28 274h1v1h-1zM28 358h1v1h-1zM28 442h1v1h-1zM28 526h1v1h-1zM28 610h1v1h-1zM28 694h1v1h-1zM36 21h1v1h-1zM36 105h1v1h-1zM36 189h1v1h-1zM36 274h1v1h-1zM36 358h1v1h-1zM36 442h1v1h-1zM36 526h1v1h-1zM36 610h1v1h-1zM36 694h1v1h-1zM44 21h1v1h-1zM44 105h1v1h-1zM44 189h1v1h-1zM44 274h1v1h-1zM44 358h1v1h-1zM44 442h1v1h-1zM44 526h1v1h-1zM44 610h1v1h-1zM44 694h1v1h-1zM53 21h1v1h-1zM53 105h1v1h-1zM53 189h1v1h-1zM53 274h1v1h-1zM53 358h1v1h-1zM53 442h1v1h-1zM53 526h1v1h-1zM53 610h1v1h-1zM53 694h1v1h-1zM61 21h1v1h-1zM61 105h1v1h-1zM61 189h1v1h-1zM61 274h1v1h-1zM61 358h1v1h-1zM61 442h1v1h-1zM61 526h1v1h-1zM61 610h1v1h-1zM61 694h1v1h-1zM70 21h1v1h-1zM70 105h1v1h-1zM70 189h1v1h-1zM70 274h1v1h-1zM70 358h1v1h-1zM70 442h1v1h-1zM70 526h1v1h-1zM70 610h1v1h-1zM70 694h1v1h-1zM78 21h1v1h-1zM78 105h1v1h-1zM78 189h1v1h-1zM78 274h1v1h-1zM78 358h1v1h-1zM78 442h1v1h-1zM78 526h1v1h-1zM78 610h1v1h-1zM78 694h1v1h-1zM87 21h1v1h-1zM87 105h1v1h-1zM87 189h1v1h-1zM87 274h1v1h-1zM87 358h1v1h-1zM87 442h1v1h-1zM87 526h1v1h-1zM87 610h1v1h-1zM87 694h1v1h-1zM95 21h1v1h-1zM95 105h1v1h-1zM95 189h1v1h-1zM95 274h1v1h-1zM95 358h1v1h-1zM95 442h1v1h-1zM95 526h1v1h-1zM95 610h1v1h-1zM95 694h1v1h-1zM103 4h1v1h-1zM103 13h1v1h-1zM103 21h1v1h-1zM103 30h1v1h-1zM103 38h1v1h-1zM103 46h1v1h-1zM103 55h1v1h-1zM103 63h1v1h-1zM103 72h1v1h-1zM103 80h1v1h-1zM103 88h1v1h-1zM103 97h1v1h-1zM103 105h1v1h-1zM103 114h1v1h-1zM103 122h1v1h-1zM103 130h1v1h-1zM103 139h1v1h-1zM103 147h1v1h-1zM103 156h1v1h-1zM103 164h1v1h-1zM103 173h1v1h-1zM103 181h1v1h-1zM103 189h1v1h-1zM103 198h1v1h-1zM103 206h1v1h-1zM103 215h1v1h-1zM103 223h1v1h-1zM103 231h1v1h-1zM103 240h1v1h-1zM103 248h1v1h-1zM103 257h1v1h-1zM103 265h1v1h-1zM103 274h1v1h-1zM103 282h1v1h-1zM103 290h1v1h-1zM103 299h1v1h-1zM103 307h1v1h-1zM103 316h1v1h-1zM103 324h1v1h-1zM103 332h1v1h-1zM103 341h1v1h-1zM103 349h1v1h-1zM103 358h1v1h-1zM103 366h1v1h-1zM103 375h1v1h-1zM103 383h1v1h-1zM103 391h1v1h-1zM103 400h1v1h-1zM103 408h1v1h-1zM103 417h1v1h-1zM103 425h1v1h-1zM103 433h1v1h-1zM103 442h1v1h-1zM103 450h1v1h-1zM103 459h1v1h-1zM103 467h1v1h-1zM103 476h1v1h-1zM103 484h1v1h-1zM103 492h1v1h-1zM103 501h1v1h-1zM103 509h1v1h-1zM103 518h1v1h-1zM103 526h1v1h-1zM103 534h1v1h-1zM103 543h1v1h-1zM103 551h1v1h-1zM103 560h1v1h-1zM103 568h1v1h-1zM103 576h1v1h-1zM103 585h1v1h-1zM103 593h1v1h-1zM103 602h1v1h-1zM103 610h1v1h-1zM103 619h1v1h-1zM103 627h1v1h-1zM103 635h1v1h-1zM103 644h1v1h-1zM103 652h1v1h-1zM103 661h1v1h-1zM103 669h1v1h-1zM103 677h1v1h-1zM103 686h1v1h-1zM103 694h1v1h-1zM103 703h1v1h-1zM103 711h1v1h-1zM103 720h1v1h-1zM112 21h1v1h-1zM112 105h1v1h-1zM112 189h1v1h-1zM112 274h1v1h-1zM112 358h1v1h-1zM112 442h1v1h-1zM112 526h1v1h-1zM112 610h1v1h-1zM112 694h1v1h-1zM120 21h1v1h-1zM120 105h1v1h-1zM120 189h1v1h-1zM120 274h1v1h-1zM120 358h1v1h-1zM120 442h1v1h-1zM120 526h1v1h-1zM120 610h1v1h-1zM120 694h1v1h-1zM129 21h1v1h-1zM129 105h1v1h-1zM129 189h1v1h-1zM129 274h1v1h-1zM129 358h1v1h-1zM129 442h1v1h-1zM129 526h1v1h-1zM129 610h1v1h-1zM129 694h1v1h-1zM137 21h1v1h-1zM137 105h1v1h-1zM137 189h1v1h-1zM137 274h1v1h-1zM137 358h1v1h-1zM137 442h1v1h-1zM137 526h1v1h-1zM137 610h1v1h-1zM137 694h1v1h-1zM145 21h1v1h-1zM145 105h1v1h-1zM145 189h1v1h-1zM145 274h1v1h-1zM145 358h1v1h-1zM145 442h1v1h-1zM145 526h1v1h-1zM145 610h1v1h-1zM145 694h1v1h-1zM154 21h1v1h-1zM154 105h1v1h-1zM154 189h1v1h-1zM154 274h1v1h-1zM154 358h1v1h-1zM154 442h1v1h-1zM154 526h1v1h-1zM154 610h1v1h-1zM154 694h1v1h-1zM162 21h1v1h-1zM162 105h1v1h-1zM162 189h1v1h-1zM162 274h1v1h-1zM162 358h1v1h-1zM162 442h1v1h-1zM162 526h1v1h-1zM162 610h1v1h-1zM162 694h1v1h-1zM171 21h1v1h-1zM171 105h1v1h-1zM171 189h1v1h-1zM171 274h1v1h-1zM171 358h1v1h-1zM171 442h1v1h-1zM171 526h1v1h-1zM171 610h1v1h-1zM171 694h1v1h-1zM179 21h1v1h-1zM179 105h1v1h-1zM179 189h1v1h-1zM179 274h1v1h-1zM179 358h1v1h-1zM179 442h1v1h-1zM179 526h1v1h-1zM179 610h1v1h-1zM179 694h1v1h-1zM188 4h1v1h-1zM188 13h1v1h-1zM188 21h1v1h-1zM188 30h1v1h-1zM188 38h1v1h-1zM188 46h1v1h-1zM188 55h1v1h-1zM188 63h1v1h-1zM188 72h1v1h-1zM188 80h1v1h-1zM188 88h1v1h-1zM188 97h1v1h-1zM188 105h1v1h-1zM188 114h1v1h-1zM188 122h1v1h-1zM188 130h1v1h-1zM188 139h1v1h-1zM188 147h1v1h-1zM188 156h1v1h-1zM188 164h1v1h-1zM188 173h1v1h-1zM188 181h1v1h-1zM188 189h1v1h-1zM188 198h1v1h-1zM188 206h1v1h-1zM188 215h1v1h-1zM188 223h1v1h-1zM188 231h1v1h-1zM188 240h1v1h-1zM188 248h1v1h-1zM188 257h1v1h-1zM188 265h1v1h-1zM188 274h1v1h-1zM188 282h1v1h-1zM188 290h1v1h-1zM188 299h1v1h-1zM188 307h1v1h-1zM188 316h1v1h-1zM188 324h1v1h-1zM188 332h1v1h-1zM188 341h1v1h-1zM188 349h1v1h-1zM188 358h1v1h-1zM188 366h1v1h-1zM188 375h1v1h-1zM188 383h1v1h-1zM188 391h1v1h-1zM188 400h1v1h-1zM188 408h1v1h-1zM188 417h1v1h-1zM188 425h1v1h-1zM188 433h1v1h-1zM188 442h1v1h-1zM188 450h1v1h-1zM188 459h1v1h-1zM188 467h1v1h-1zM188 476h1v1h-1zM188 484h1v1h-1zM188 492h1v1h-1zM188 501h1v1h-1zM188 509h1v1h-1zM188 518h1v1h-1zM188 526h1v1h-1zM188 534h1v1h-1zM188 543h1v1h-1zM188 551h1v1h-1zM188 560h1v1h-1zM188 568h1v1h-1zM188 576h1v1h-1zM188 585h1v1h-1zM188 593h1v1h-1zM188 602h1v1h-1zM188 610h1v1h-1zM188 619h1v1h-1zM188 627h1v1h-1zM188 635h1v1h-1zM188 644h1v1h-1zM188 652h1v1h-1zM188 661h1v1h-1zM188 669h1v1h-1zM188 677h1v1h-1zM188 686h1v1h-1zM188 694h1v1h-1zM188 703h1v1h-1zM188 711h1v1h-1zM188 720h1v1h-1zM196 21h1v1h-1zM196 105h1v1h-1zM196 189h1v1h-1zM196 274h1v1h-1zM196 358h1v1h-1zM196 442h1v1h-1zM196 526h1v1h-1zM196 610h1v1h-1zM196 694h1v1h-1zM204 21h1v1h-1zM204 105h1v1h-1zM204 189h1v1h-1zM204 274h1v1h-1zM204 358h1v1h-1zM204 442h1v1h-1zM204 526h1v1h-1zM204 610h1v1h-1zM204 694h1v1h-1zM213 21h1v1h-1zM213 105h1v1h-1zM213 189h1v1h-1zM213 274h1v1h-1zM213 358h1v1h-1zM213 442h1v1h-1zM213 526h1v1h-1zM213 610h1v1h-1zM213 694h1v1h-1zM221 21h1v1h-1zM221 105h1v1h-1zM221 189h1v1h-1zM221 274h1v1h-1zM221 358h1v1h-1zM221 442h1v1h-1zM221 526h1v1h-1zM221 610h1v1h-1zM221 694h1v1h-1zM230 21h1v1h-1zM230 105h1v1h-1zM230 189h1v1h-1zM230 274h1v1h-1zM230 358h1v1h-1zM230 442h1v1h-1zM230 526h1v1h-1zM230 610h1v1h-1zM230 694h1v1h-1zM238 21h1v1h-1zM238 105h1v1h-1zM238 189h1v1h-1zM238 274h1v1h-1zM238 358h1v1h-1zM238 442h1v1h-1zM238 526h1v1h-1zM238 610h1v1h-1zM238 694h1v1h-1zM246 21h1v1h-1zM246 105h1v1h-1zM246 189h1v1h-1zM246 274h1v1h-1zM246 358h1v1h-1zM246 442h1v1h-1zM246 526h1v1h-1zM246 610h1v1h-1zM246 694h1v1h-1zM255 21h1v1h-1zM255 105h1v1h-1zM255 189h1v1h-1zM255 274h1v1h-1zM255 358h1v1h-1zM255 442h1v1h-1zM255 526h1v1h-1zM255 610h1v1h-1zM255 694h1v1h-1zM263 21h1v1h-1zM263 105h1v1h-1zM263 189h1v1h-1zM263 274h1v1h-1zM263 358h1v1h-1zM263 442h1v1h-1zM263 526h1v1h-1zM263 610h1v1h-1zM263 694h1v1h-1zM272 4h1v1h-1zM272 13h1v1h-1zM272 21h1v1h-1zM272 30h1v1h-1zM272 38h1v1h-1zM272 46h1v1h-1zM272 55h1v1h-1zM272 63h1v1h-1zM272 72h1v1h-1zM272 80h1v1h-1zM272 88h1v1h-1zM272 97h1v1h-1zM272 105h1v1h-1zM272 114h1v1h-1zM272 122h1v1h-1zM272 130h1v1h-1zM272 139h1v1h-1zM272 147h1v1h-1zM272 156h1v1h-1zM272 164h1v1h-1zM272 173h1v1h-1zM272 181h1v1h-1zM272 189h1v1h-1zM272 198h1v1h-1zM272 206h1v1h-1zM272 215h1v1h-1zM272 223h1v1h-1zM272 231h1v1h-1zM272 240h1v1h-1zM272 248h1v1h-1zM272 257h1v1h-1zM272 265h1v1h-1zM272 274h1v1h-1zM272 282h1v1h-1zM272 290h1v1h-1zM272 299h1v1h-1zM272 307h1v1h-1zM272 316h1v1h-1zM272 324h1v1h-1zM272 332h1v1h-1zM272 341h1v1h-1zM272 349h1v1h-1zM272 358h1v1h-1zM272 366h1v1h-1zM272 375h1v1h-1zM272 383h1v1h-1zM272 391h1v1h-1zM272 400h1v1h-1zM272 408h1v1h-1zM272 417h1v1h-1zM272 425h1v1h-1zM272 433h1v1h-1zM272 442h1v1h-1zM272 450h1v1h-1zM272 459h1v1h-1zM272 467h1v1h-1zM272 476h1v1h-1zM272 484h1v1h-1zM272 492h1v1h-1zM272 501h1v1h-1zM272 509h1v1h-1zM272 518h1v1h-1zM272 526h1v1h-1zM272 534h1v1h-1zM272 543h1v1h-1zM272 551h1v1h-1zM272 560h1v1h-1zM272 568h1v1h-1zM272 576h1v1h-1zM272 585h1v1h-1zM272 593h1v1h-1zM272 602h1v1h-1zM272 610h1v1h-1zM272 619h1v1h-1zM272 627h1v1h-1zM272 635h1v1h-1zM272 644h1v1h-1zM272 652h1v1h-1zM272 661h1v1h-1zM272 669h1v1h-1zM272 677h1v1h-1zM272 686h1v1h-1zM272 694h1v1h-1zM272 703h1v1h-1zM272 711h1v1h-1zM272 720h1v1h-1zM280 21h1v1h-1zM280 105h1v1h-1zM280 189h1v1h-1zM280 274h1v1h-1zM280 358h1v1h-1zM280 442h1v1h-1zM280 526h1v1h-1zM280 610h1v1h-1zM280 694h1v1h-1zM288 21h1v1h-1zM288 105h1v1h-1zM288 189h1v1h-1zM288 274h1v1h-1zM288 358h1v1h-1zM288 442h1v1h-1zM288 526h1v1h-1zM288 610h1v1h-1zM288 694h1v1h-1zM297 21h1v1h-1zM297 105h1v1h-1zM297 189h1v1h-1zM297 274h1v1h-1zM297 358h1v1h-1zM297 442h1v1h-1zM297 526h1v1h-1zM297 610h1v1h-1zM297 694h1v1h-1zM305 21h1v1h-1zM305 105h1v1h-1zM305 189h1v1h-1zM305 274h1v1h-1zM305 358h1v1h-1zM305 442h1v1h-1zM305 526h1v1h-1zM305 610h1v1h-1zM305 694h1v1h-1zM314 21h1v1h-1zM314 105h1v1h-1zM314 189h1v1h-1zM314 274h1v1h-1zM314 358h1v1h-1zM314 442h1v1h-1zM314 526h1v1h-1zM314 610h1v1h-1zM314 694h1v1h-1zM322 21h1v1h-1zM322 105h1v1h-1zM322 189h1v1h-1zM322 274h1v1h-1zM322 358h1v1h-1zM322 442h1v1h-1zM322 526h1v1h-1zM322 610h1v1h-1zM322 694h1v1h-1zM331 21h1v1h-1zM331 105h1v1h-1zM331 189h1v1h-1zM331 274h1v1h-1zM331 358h1v1h-1zM331 442h1v1h-1zM331 526h1v1h-1zM331 610h1v1h-1zM331 694h1v1h-1zM339 21h1v1h-1zM339 105h1v1h-1zM339 189h1v1h-1zM339 274h1v1h-1zM339 358h1v1h-1zM339 442h1v1h-1zM339 526h1v1h-1zM339 610h1v1h-1zM339 694h1v1h-1zM347 21h1v1h-1zM347 105h1v1h-1zM347 189h1v1h-1zM347 274h1v1h-1zM347 358h1v1h-1zM347 442h1v1h-1zM347 526h1v1h-1zM347 610h1v1h-1zM347 694h1v1h-1zM356 4h1v1h-1zM356 13h1v1h-1zM356 21h1v1h-1zM356 30h1v1h-1zM356 38h1v1h-1zM356 46h1v1h-1zM356 55h1v1h-1zM356 63h1v1h-1zM356 72h1v1h-1zM356 80h1v1h-1zM356 88h1v1h-1zM356 97h1v1h-1zM356 105h1v1h-1zM356 114h1v1h-1zM356 122h1v1h-1zM356 130h1v1h-1zM356 139h1v1h-1zM356 147h1v1h-1zM356 156h1v1h-1zM356 164h1v1h-1zM356 173h1v1h-1zM356 181h1v1h-1zM356 189h1v1h-1zM356 198h1v1h-1zM356 206h1v1h-1zM356 215h1v1h-1zM356 223h1v1h-1zM356 231h1v1h-1zM356 240h1v1h-1zM356 248h1v1h-1zM356 257h1v1h-1zM356 265h1v1h-1zM356 274h1v1h-1zM356 282h1v1h-1zM356 290h1v1h-1zM356 299h1v1h-1zM356 307h1v1h-1zM356 316h1v1h-1zM356 324h1v1h-1zM356 332h1v1h-1zM356 341h1v1h-1zM356 349h1v1h-1zM356 358h1v1h-1zM356 366h1v1h-1zM356 375h1v1h-1zM356 383h1v1h-1zM356 391h1v1h-1zM356 400h1v1h-1zM356 408h1v1h-1zM356 417h1v1h-1zM356 425h1v1h-1zM356 433h1v1h-1zM356 442h1v1h-1zM356 450h1v1h-1zM356 459h1v1h-1zM356 467h1v1h-1zM356 476h1v1h-1zM356 484h1v1h-1zM356 492h1v1h-1zM356 501h1v1h-1zM356 509h1v1h-1zM356 518h1v1h-1zM356 526h1v1h-1zM356 534h1v1h-1zM356 543h1v1h-1zM356 551h1v1h-1zM356 560h1v1h-1zM356 568h1v1h-1zM356 576h1v1h-1zM356 585h1v1h-1zM356 593h1v1h-1zM356 602h1v1h-1zM356 610h1v1h-1zM356 619h1v1h-1zM356 627h1v1h-1zM356 635h1v1h-1zM356 644h1v1h-1zM356 652h1v1h-1zM356 661h1v1h-1zM356 669h1v1h-1zM356 677h1v1h-1zM356 686h1v1h-1zM356 694h1v1h-1zM356 703h1v1h-1zM356 711h1v1h-1zM356 720h1v1h-1zM364 21h1v1h-1zM364 105h1v1h-1zM364 189h1v1h-1zM364 274h1v1h-1zM364 358h1v1h-1zM364 442h1v1h-1zM364 526h1v1h-1zM364 610h1v1h-1zM364 694h1v1h-1zM373 21h1v1h-1zM373 105h1v1h-1zM373 189h1v1h-1zM373 274h1v1h-1zM373 358h1v1h-1zM373 442h1v1h-1zM373 526h1v1h-1zM373 610h1v1h-1zM373 694h1v1h-1zM381 21h1v1h-1zM381 105h1v1h-1zM381 189h1v1h-1zM381 274h1v1h-1zM381 358h1v1h-1zM381 442h1v1h-1zM381 526h1v1h-1zM381 610h1v1h-1zM381 694h1v1h-1zM389 21h1v1h-1zM389 105h1v1h-1zM389 189h1v1h-1zM389 274h1v1h-1zM389 358h1v1h-1zM389 442h1v1h-1zM389 526h1v1h-1zM389 610h1v1h-1zM389 694h1v1h-1zM398 21h1v1h-1zM398 105h1v1h-1zM398 189h1v1h-1zM398 274h1v1h-1zM398 358h1v1h-1zM398 442h1v1h-1zM398 526h1v1h-1zM398 610h1v1h-1zM398 694h1v1h-1zM406 21h1v1h-1zM406 105h1v1h-1zM406 189h1v1h-1zM406 274h1v1h-1zM406 358h1v1h-1zM406 442h1v1h-1zM406 526h1v1h-1zM406 610h1v1h-1zM406 694h1v1h-1zM415 21h1v1h-1zM415 105h1v1h-1zM415 189h1v1h-1zM415 274h1v1h-1zM415 358h1v1h-1zM415 442h1v1h-1zM415 526h1v1h-1zM415 610h1v1h-1zM415 694h1v1h-1zM423 21h1v1h-1zM423 105h1v1h-1zM423 189h1v1h-1zM423 274h1v1h-1zM423 358h1v1h-1zM423 442h1v1h-1zM423 526h1v1h-1zM423 610h1v1h-1zM423 694h1v1h-1zM432 21h1v1h-1zM432 105h1v1h-1zM432 189h1v1h-1zM432 274h1v1h-1zM432 358h1v1h-1zM432 442h1v1h-1zM432 526h1v1h-1zM432 610h1v1h-1zM432 694h1v1h-1zM440 4h1v1h-1zM440 13h1v1h-1zM440 21h1v1h-1zM440 30h1v1h-1zM440 38h1v1h-1zM440 46h1v1h-1zM440 55h1v1h-1zM440 63h1v1h-1zM440 72h1v1h-1zM440 80h1v1h-1zM440 88h1v1h-1zM440 97h1v1h-1zM440 105h1v1h-1zM440 114h1v1h-1zM440 122h1v1h-1zM440 130h1v1h-1zM440 139h1v1h-1zM440 147h1v1h-1zM440 156h1v1h-1zM440 164h1v1h-1zM440 173h1v1h-1zM440 181h1v1h-1zM440 189h1v1h-1zM440 198h1v1h-1zM440 206h1v1h-1zM440 215h1v1h-1zM440 223h1v1h-1zM440 231h1v1h-1zM440 240h1v1h-1zM440 248h1v1h-1zM440 257h1v1h-1zM440 265h1v1h-1zM440 274h1v1h-1zM440 282h1v1h-1zM440 290h1v1h-1zM440 299h1v1h-1zM440 307h1v1h-1zM440 316h1v1h-1zM440 324h1v1h-1zM440 332h1v1h-1zM440 341h1v1h-1zM440 349h1v1h-1zM440 358h1v1h-1zM440 366h1v1h-1zM440 375h1v1h-1zM440 383h1v1h-1zM440 391h1v1h-1zM440 400h1v1h-1zM440 408h1v1h-1zM440 417h1v1h-1zM440 425h1v1h-1zM440 433h1v1h-1zM440 442h1v1h-1zM440 450h1v1h-1zM440 459h1v1h-1zM440 467h1v1h-1zM440 476h1v1h-1zM440 484h1v1h-1zM440 492h1v1h-1zM440 501h1v1h-1zM440 509h1v1h-1zM440 518h1v1h-1zM440 526h1v1h-1zM440 534h1v1h-1zM440 543h1v1h-1zM440 551h1v1h-1zM440 560h1v1h-1zM440 568h1v1h-1zM440 576h1v1h-1zM440 585h1v1h-1zM440 593h1v1h-1zM440 602h1v1h-1zM440 610h1v1h-1zM440 619h1v1h-1zM440 627h1v1h-1zM440 635h1v1h-1zM440 644h1v1h-1zM440 652h1v1h-1zM440 661h1v1h-1zM440 669h1v1h-1zM440 677h1v1h-1zM440 686h1v1h-1zM440 694h1v1h-1zM440 703h1v1h-1zM440 711h1v1h-1zM440 720h1v1h-1zM448 21h1v1h-1zM448 105h1v1h-1zM448 189h1v1h-1zM448 274h1v1h-1zM448 358h1v1h-1zM448 442h1v1h-1zM448 526h1v1h-1zM448 610h1v1h-1zM448 694h1v1h-1zM457 21h1v1h-1zM457 105h1v1h-1zM457 189h1v1h-1zM457 274h1v1h-1zM457 358h1v1h-1zM457 442h1v1h-1zM457 526h1v1h-1zM457 610h1v1h-1zM457 694h1v1h-1zM465 21h1v1h-1zM465 105h1v1h-1zM465 189h1v1h-1zM465 274h1v1h-1zM465 358h1v1h-1zM465 442h1v1h-1zM465 526h1v1h-1zM465 610h1v1h-1zM465 694h1v1h-1zM474 21h1v1h-1zM474 105h1v1h-1zM474 189h1v1h-1zM474 274h1v1h-1zM474 358h1v1h-1zM474 442h1v1h-1zM474 526h1v1h-1zM474 610h1v1h-1zM474 694h1v1h-1zM482 21h1v1h-1zM482 105h1v1h-1zM482 189h1v1h-1zM482 274h1v1h-1zM482 358h1v1h-1zM482 442h1v1h-1zM482 526h1v1h-1zM482 610h1v1h-1zM482 694h1v1h-1zM490 21h1v1h-1zM490 105h1v1h-1zM490 189h1v1h-1zM490 274h1v1h-1zM490 358h1v1h-1zM490 442h1v1h-1zM490 526h1v1h-1zM490 610h1v1h-1zM490 694h1v1h-1zM499 21h1v1h-1zM499 105h1v1h-1zM499 189h1v1h-1zM499 274h1v1h-1zM499 358h1v1h-1zM499 442h1v1h-1zM499 526h1v1h-1zM499 610h1v1h-1zM499 694h1v1h-1zM507 21h1v1h-1zM507 105h1v1h-1zM507 189h1v1h-1zM507 274h1v1h-1zM507 358h1v1h-1zM507 442h1v1h-1zM507 526h1v1h-1zM507 610h1v1h-1zM507 694h1v1h-1zM516 21h1v1h-1zM516 105h1v1h-1zM516 189h1v1h-1zM516 274h1v1h-1zM516 358h1v1h-1zM516 442h1v1h-1zM516 526h1v1h-1zM516 610h1v1h-1zM516 694h1v1h-1zM524 4h1v1h-1zM524 13h1v1h-1zM524 21h1v1h-1zM524 30h1v1h-1zM524 38h1v1h-1zM524 46h1v1h-1zM524 55h1v1h-1zM524 63h1v1h-1zM524 72h1v1h-1zM524 80h1v1h-1zM524 88h1v1h-1zM524 97h1v1h-1zM524 105h1v1h-1zM524 114h1v1h-1zM524 122h1v1h-1zM524 130h1v1h-1zM524 139h1v1h-1zM524 147h1v1h-1zM524 156h1v1h-1zM524 164h1v1h-1zM524 173h1v1h-1zM524 181h1v1h-1zM524 189h1v1h-1zM524 198h1v1h-1zM524 206h1v1h-1zM524 215h1v1h-1zM524 223h1v1h-1zM524 231h1v1h-1zM524 240h1v1h-1zM524 248h1v1h-1zM524 257h1v1h-1zM524 265h1v1h-1zM524 274h1v1h-1zM524 282h1v1h-1zM524 290h1v1h-1zM524 299h1v1h-1zM524 307h1v1h-1zM524 316h1v1h-1zM524 324h1v1h-1zM524 332h1v1h-1zM524 341h1v1h-1zM524 349h1v1h-1zM524 358h1v1h-1zM524 366h1v1h-1zM524 375h1v1h-1zM524 383h1v1h-1zM524 391h1v1h-1zM524 400h1v1h-1zM524 408h1v1h-1zM524 417h1v1h-1zM524 425h1v1h-1zM524 433h1v1h-1zM524 442h1v1h-1zM524 450h1v1h-1zM524 459h1v1h-1zM524 467h1v1h-1zM524 476h1v1h-1zM524 484h1v1h-1zM524 492h1v1h-1zM524 501h1v1h-1zM524 509h1v1h-1zM524 518h1v1h-1zM524 526h1v1h-1zM524 534h1v1h-1zM524 543h1v1h-1zM524 551h1v1h-1zM524 560h1v1h-1zM524 568h1v1h-1zM524 576h1v1h-1zM524 585h1v1h-1zM524 593h1v1h-1zM524 602h1v1h-1zM524 610h1v1h-1zM524 619h1v1h-1zM524 627h1v1h-1zM524 635h1v1h-1zM524 644h1v1h-1zM524 652h1v1h-1zM524 661h1v1h-1zM524 669h1v1h-1zM524 677h1v1h-1zM524 686h1v1h-1zM524 694h1v1h-1zM524 703h1v1h-1zM524 711h1v1h-1zM524 720h1v1h-1zM533 21h1v1h-1zM533 105h1v1h-1zM533 189h1v1h-1zM533 274h1v1h-1zM533 358h1v1h-1zM533 442h1v1h-1zM533 526h1v1h-1zM533 610h1v1h-1zM533 694h1v1h-1zM541 21h1v1h-1zM541 105h1v1h-1zM541 189h1v1h-1zM541 274h1v1h-1zM541 358h1v1h-1zM541 442h1v1h-1zM541 526h1v1h-1zM541 610h1v1h-1zM541 694h1v1h-1zM549 21h1v1h-1zM549 105h1v1h-1zM549 189h1v1h-1zM549 274h1v1h-1zM549 358h1v1h-1zM549 442h1v1h-1zM549 526h1v1h-1zM549 610h1v1h-1zM549 694h1v1h-1zM558 21h1v1h-1zM558 105h1v1h-1zM558 189h1v1h-1zM558 274h1v1h-1zM558 358h1v1h-1zM558 442h1v1h-1zM558 526h1v1h-1zM558 610h1v1h-1zM558 694h1v1h-1zM566 21h1v1h-1zM566 105h1v1h-1zM566 189h1v1h-1zM566 274h1v1h-1zM566 358h1v1h-1zM566 442h1v1h-1zM566 526h1v1h-1zM566 610h1v1h-1zM566 694h1v1h-1zM575 21h1v1h-1zM575 105h1v1h-1zM575 189h1v1h-1zM575 274h1v1h-1zM575 358h1v1h-1zM575 442h1v1h-1zM575 526h1v1h-1zM575 610h1v1h-1zM575 694h1v1h-1zM583 21h1v1h-1zM583 105h1v1h-1zM583 189h1v1h-1zM583 274h1v1h-1zM583 358h1v1h-1zM583 442h1v1h-1zM583 526h1v1h-1zM583 610h1v1h-1zM583 694h1v1h-1zM591 21h1v1h-1zM591 105h1v1h-1zM591 189h1v1h-1zM591 274h1v1h-1zM591 358h1v1h-1zM591 442h1v1h-1zM591 526h1v1h-1zM591 610h1v1h-1zM591 694h1v1h-1zM600 21h1v1h-1zM600 105h1v1h-1zM600 189h1v1h-1zM600 274h1v1h-1zM600 358h1v1h-1zM600 442h1v1h-1zM600 526h1v1h-1zM600 610h1v1h-1zM600 694h1v1h-1zM608 4h1v1h-1zM608 13h1v1h-1zM608 21h1v1h-1zM608 30h1v1h-1zM608 38h1v1h-1zM608 46h1v1h-1zM608 55h1v1h-1zM608 63h1v1h-1zM608 72h1v1h-1zM608 80h1v1h-1zM608 88h1v1h-1zM608 97h1v1h-1zM608 105h1v1h-1zM608 114h1v1h-1zM608 122h1v1h-1zM608 130h1v1h-1zM608 139h1v1h-1zM608 147h1v1h-1zM608 156h1v1h-1zM608 164h1v1h-1zM608 173h1v1h-1zM608 181h1v1h-1zM608 189h1v1h-1zM608 198h1v1h-1zM608 206h1v1h-1zM608 215h1v1h-1zM608 223h1v1h-1zM608 231h1v1h-1zM608 240h1v1h-1zM608 248h1v1h-1zM608 257h1v1h-1zM608 265h1v1h-1zM608 274h1v1h-1zM608 282h1v1h-1zM608 290h1v1h-1zM608 299h1v1h-1zM608 307h1v1h-1zM608 316h1v1h-1zM608 324h1v1h-1zM608 332h1v1h-1zM608 341h1v1h-1zM608 349h1v1h-1zM608 358h1v1h-1zM608 366h1v1h-1zM608 375h1v1h-1zM608 383h1v1h-1zM608 391h1v1h-1zM608 400h1v1h-1zM608 408h1v1h-1zM608 417h1v1h-1zM608 425h1v1h-1zM608 433h1v1h-1zM608 442h1v1h-1zM608 450h1v1h-1zM608 459h1v1h-1zM608 467h1v1h-1zM608 476h1v1h-1zM608 484h1v1h-1zM608 492h1v1h-1zM608 501h1v1h-1zM608 509h1v1h-1zM608 518h1v1h-1zM608 526h1v1h-1zM608 534h1v1h-1zM608 543h1v1h-1zM608 551h1v1h-1zM608 560h1v1h-1zM608 568h1v1h-1zM608 576h1v1h-1zM608 585h1v1h-1zM608 593h1v1h-1zM608 602h1v1h-1zM608 610h1v1h-1zM608 619h1v1h-1zM608 627h1v1h-1zM608 635h1v1h-1zM608 644h1v1h-1zM608 652h1v1h-1zM608 661h1v1h-1zM608 669h1v1h-1zM608 677h1v1h-1zM608 686h1v1h-1zM608 694h1v1h-1zM608 703h1v1h-1zM608 711h1v1h-1zM608 720h1v1h-1zM617 21h1v1h-1zM617 105h1v1h-1zM617 189h1v1h-1zM617 274h1v1h-1zM617 358h1v1h-1zM617 442h1v1h-1zM617 526h1v1h-1zM617 610h1v1h-1zM617 694h1v1h-1zM625 21h1v1h-1zM625 105h1v1h-1zM625 189h1v1h-1zM625 274h1v1h-1zM625 358h1v1h-1zM625 442h1v1h-1zM625 526h1v1h-1zM625 610h1v1h-1zM625 694h1v1h-1zM633 21h1v1h-1zM633 105h1v1h-1zM633 189h1v1h-1zM633 274h1v1h-1zM633 358h1v1h-1zM633 442h1v1h-1zM633 526h1v1h-1zM633 610h1v1h-1zM633 694h1v1h-1zM642 21h1v1h-1zM642 105h1v1h-1zM642 189h1v1h-1zM642 274h1v1h-1zM642 358h1v1h-1zM642 442h1v1h-1zM642 526h1v1h-1zM642 610h1v1h-1zM642 694h1v1h-1zM650 21h1v1h-1zM650 105h1v1h-1zM650 189h1v1h-1zM650 274h1v1h-1zM650 358h1v1h-1zM650 442h1v1h-1zM650 526h1v1h-1zM650 610h1v1h-1zM650 694h1v1h-1zM659 21h1v1h-1zM659 105h1v1h-1zM659 189h1v1h-1zM659 274h1v1h-1zM659 358h1v1h-1zM659 442h1v1h-1zM659 526h1v1h-1zM659 610h1v1h-1zM659 694h1v1h-1zM667 21h1v1h-1zM667 105h1v1h-1zM667 189h1v1h-1zM667 274h1v1h-1zM667 358h1v1h-1zM667 442h1v1h-1zM667 526h1v1h-1zM667 610h1v1h-1zM667 694h1v1h-1zM676 21h1v1h-1zM676 105h1v1h-1zM676 189h1v1h-1zM676 274h1v1h-1zM676 358h1v1h-1zM676 442h1v1h-1zM676 526h1v1h-1zM676 610h1v1h-1zM676 694h1v1h-1zM684 21h1v1h-1zM684 105h1v1h-1zM684 189h1v1h-1zM684 274h1v1h-1zM684 358h1v1h-1zM684 442h1v1h-1zM684 526h1v1h-1zM684 610h1v1h-1zM684 694h1v1h-1zM692 4h1v1h-1zM692 13h1v1h-1zM692 21h1v1h-1zM692 30h1v1h-1zM692 38h1v1h-1zM692 46h1v1h-1zM692 55h1v1h-1zM692 63h1v1h-1zM692 72h1v1h-1zM692 80h1v1h-1zM692 88h1v1h-1zM692 97h1v1h-1zM692 105h1v1h-1zM692 114h1v1h-1zM692 122h1v1h-1zM692 130h1v1h-1zM692 139h1v1h-1zM692 147h1v1h-1zM692 156h1v1h-1zM692 164h1v1h-1zM692 173h1v1h-1zM692 181h1v1h-1zM692 189h1v1h-1zM692 198h1v1h-1zM692 206h1v1h-1zM692 215h1v1h-1zM692 223h1v1h-1zM692 231h1v1h-1zM692 240h1v1h-1zM692 248h1v1h-1zM692 257h1v1h-1zM692 265h1v1h-1zM692 274h1v1h-1zM692 282h1v1h-1zM692 290h1v1h-1zM692 299h1v1h-1zM692 307h1v1h-1zM692 316h1v1h-1zM692 324h1v1h-1zM692 332h1v1h-1zM692 341h1v1h-1zM692 349h1v1h-1zM692 358h1v1h-1zM692 366h1v1h-1zM692 375h1v1h-1zM692 383h1v1h-1zM692 391h1v1h-1zM692 400h1v1h-1zM692 408h1v1h-1zM692 417h1v1h-1zM692 425h1v1h-1zM692 433h1v1h-1zM692 442h1v1h-1zM692 450h1v1h-1zM692 459h1v1h-1zM692 467h1v1h-1zM692 476h1v1h-1zM692 484h1v1h-1zM692 492h1v1h-1zM692 501h1v1h-1zM692 509h1v1h-1zM692 518h1v1h-1zM692 526h1v1h-1zM692 534h1v1h-1zM692 543h1v1h-1zM692 551h1v1h-1zM692 560h1v1h-1zM692 568h1v1h-1zM692 576h1v1h-1zM692 585h1v1h-1zM692 593h1v1h-1zM692 602h1v1h-1zM692 610h1v1h-1zM692 619h1v1h-1zM692 627h1v1h-1zM692 635h1v1h-1zM692 644h1v1h-1zM692 652h1v1h-1zM692 661h1v1h-1zM692 669h1v1h-1zM692 677h1v1h-1zM692 686h1v1h-1zM692 694h1v1h-1zM692 703h1v1h-1zM692 711h1v1h-1zM692 720h1v1h-1zM701 21h1v1h-1zM701 105h1v1h-1zM701 189h1v1h-1zM701 274h1v1h-1zM701 358h1v1h-1zM701 442h1v1h-1zM701 526h1v1h-1zM701 610h1v1h-1zM701 694h1v1h-1zM709 21h1v1h-1zM709 105h1v1h-1zM709 189h1v1h-1zM709 274h1v1h-1zM709 358h1v1h-1zM709 442h1v1h-1zM709 526h1v1h-1zM709 610h1v1h-1zM709 694h1v1h-1zM718 21h1v1h-1zM718 105h1v1h-1zM718 189h1v1h-1zM718 274h1v1h-1zM718 358h1v1h-1zM718 442h1v1h-1zM718 526h1v1h-1zM718 610h1v1h-1zM718 694h1v1h-1zM726 21h1v1h-1zM726 105h1v1h-1zM726 189h1v1h-1zM726 274h1v1h-1zM726 358h1v1h-1zM726 442h1v1h-1zM726 526h1v1h-1zM726 610h1v1h-1zM726 694h1v1h-1zM734 21h1v1h-1zM734 105h1v1h-1zM734 189h1v1h-1zM734 274h1v1h-1zM734 358h1v1h-1zM734 442h1v1h-1zM734 526h1v1h-1zM734 610h1v1h-1zM734 694h1v1h-1zM743 21h1v1h-1zM743 105h1v1h-1zM743 189h1v1h-1zM743 274h1v1h-1zM743 358h1v1h-1zM743 442h1v1h-1zM743 526h1v1h-1zM743 610h1v1h-1zM743 694h1v1h-1zM751 21h1v1h-1zM751 105h1v1h-1zM751 189h1v1h-1zM751 274h1v1h-1zM751 358h1v1h-1zM751 442h1v1h-1zM751 526h1v1h-1zM751 610h1v1h-1zM751 694h1v1h-1zM760 21h1v1h-1zM760 105h1v1h-1zM760 189h1v1h-1zM760 274h1v1h-1zM760 358h1v1h-1zM760 442h1v1h-1zM760 526h1v1h-1zM760 610h1v1h-1zM760 694h1v1h-1zM768 21h1v1h-1zM768 105h1v1h-1zM768 189h1v1h-1zM768 274h1v1h-1zM768 358h1v1h-1zM768 442h1v1h-1zM768 526h1v1h-1zM768 610h1v1h-1zM768 694h1v1h-1zM777 4h1v1h-1zM777 13h1v1h-1zM777 21h1v1h-1zM777 30h1v1h-1zM777 38h1v1h-1zM777 46h1v1h-1zM777 55h1v1h-1zM777 63h1v1h-1zM777 72h1v1h-1zM777 80h1v1h-1zM777 88h1v1h-1zM777 97h1v1h-1zM777 105h1v1h-1zM777 114h1v1h-1zM777 122h1v1h-1zM777 130h1v1h-1zM777 139h1v1h-1zM777 147h1v1h-1zM777 156h1v1h-1zM777 164h1v1h-1zM777 173h1v1h-1zM777 181h1v1h-1zM777 189h1v1h-1zM777 198h1v1h-1zM777 206h1v1h-1zM777 215h1v1h-1zM777 223h1v1h-1zM777 231h1v1h-1zM777 240h1v1h-1zM777 248h1v1h-1zM777 257h1v1h-1zM777 265h1v1h-1zM777 274h1v1h-1zM777 282h1v1h-1zM777 290h1v1h-1zM777 299h1v1h-1zM777 307h1v1h-1zM777 316h1v1h-1zM777 324h1v1h-1zM777 332h1v1h-1zM777 341h1v1h-1zM777 349h1v1h-1zM777 358h1v1h-1zM777 366h1v1h-1zM777 375h1v1h-1zM777 383h1v1h-1zM777 391h1v1h-1zM777 400h1v1h-1zM777 408h1v1h-1zM777 417h1v1h-1zM777 425h1v1h-1zM777 433h1v1h-1zM777 442h1v1h-1zM777 450h1v1h-1zM777 459h1v1h-1zM777 467h1v1h-1zM777 476h1v1h-1zM777 484h1v1h-1zM777 492h1v1h-1zM777 501h1v1h-1zM777 509h1v1h-1zM777 518h1v1h-1zM777 526h1v1h-1zM777 534h1v1h-1zM777 543h1v1h-1zM777 551h1v1h-1zM777 560h1v1h-1zM777 568h1v1h-1zM777 576h1v1h-1zM777 585h1v1h-1zM777 593h1v1h-1zM777 602h1v1h-1zM777 610h1v1h-1zM777 619h1v1h-1zM777 627h1v1h-1zM777 635h1v1h-1zM777 644h1v1h-1zM777 652h1v1h-1zM777 661h1v1h-1zM777 669h1v1h-1zM777 677h1v1h-1zM777 686h1v1h-1zM777 694h1v1h-1zM777 703h1v1h-1zM777 711h1v1h-1zM777 720h1v1h-1zM785 21h1v1h-1zM785 105h1v1h-1zM785 189h1v1h-1zM785 274h1v1h-1zM785 358h1v1h-1zM785 442h1v1h-1zM785 526h1v1h-1zM785 610h1v1h-1zM785 694h1v1h-1zM793 21h1v1h-1zM793 105h1v1h-1zM793 189h1v1h-1zM793 274h1v1h-1zM793 358h1v1h-1zM793 442h1v1h-1zM793 526h1v1h-1zM793 610h1v1h-1zM793 694h1v1h-1zM802 21h1v1h-1zM802 105h1v1h-1zM802 189h1v1h-1zM802 274h1v1h-1zM802 358h1v1h-1zM802 442h1v1h-1zM802 526h1v1h-1zM802 610h1v1h-1zM802 694h1v1h-1zM810 21h1v1h-1zM810 105h1v1h-1zM810 189h1v1h-1zM810 274h1v1h-1zM810 358h1v1h-1zM810 442h1v1h-1zM810 526h1v1h-1zM810 610h1v1h-1zM810 694h1v1h-1zM819 21h1v1h-1zM819 105h1v1h-1zM819 189h1v1h-1zM819 274h1v1h-1zM819 358h1v1h-1zM819 442h1v1h-1zM819 526h1v1h-1zM819 610h1v1h-1zM819 694h1v1h-1zM827 21h1v1h-1zM827 105h1v1h-1zM827 189h1v1h-1zM827 274h1v1h-1zM827 358h1v1h-1zM827 442h1v1h-1zM827 526h1v1h-1zM827 610h1v1h-1zM827 694h1v1h-1zM835 21h1v1h-1zM835 105h1v1h-1zM835 189h1v1h-1zM835 274h1v1h-1zM835 358h1v1h-1zM835 442h1v1h-1zM835 526h1v1h-1zM835 610h1v1h-1zM835 694h1v1h-1zM844 21h1v1h-1zM844 105h1v1h-1zM844 189h1v1h-1zM844 274h1v1h-1zM844 358h1v1h-1zM844 442h1v1h-1zM844 526h1v1h-1zM844 610h1v1h-1zM844 694h1v1h-1zM852 21h1v1h-1zM852 105h1v1h-1zM852 189h1v1h-1zM852 274h1v1h-1zM852 358h1v1h-1zM852 442h1v1h-1zM852 526h1v1h-1zM852 610h1v1h-1zM852 694h1v1h-1zM861 4h1v1h-1zM861 13h1v1h-1zM861 21h1v1h-1zM861 30h1v1h-1zM861 38h1v1h-1zM861 46h1v1h-1zM861 55h1v1h-1zM861 63h1v1h-1zM861 72h1v1h-1zM861 80h1v1h-1zM861 88h1v1h-1zM861 97h1v1h-1zM861 105h1v1h-1zM861 114h1v1h-1zM861 122h1v1h-1zM861 130h1v1h-1zM861 139h1v1h-1zM861 147h1v1h-1zM861 156h1v1h-1zM861 164h1v1h-1zM861 173h1v1h-1zM861 181h1v1h-1zM861 189h1v1h-1zM861 198h1v1h-1zM861 206h1v1h-1zM861 215h1v1h-1zM861 223h1v1h-1zM861 231h1v1h-1zM861 240h1v1h-1zM861 248h1v1h-1zM861 257h1v1h-1zM861 265h1v1h-1zM861 274h1v1h-1zM861 282h1v1h-1zM861 290h1v1h-1zM861 299h1v1h-1zM861 307h1v1h-1zM861 316h1v1h-1zM861 324h1v1h-1zM861 332h1v1h-1zM861 341h1v1h-1zM861 349h1v1h-1zM861 358h1v1h-1zM861 366h1v1h-1zM861 375h1v1h-1zM861 383h1v1h-1zM861 391h1v1h-1zM861 400h1v1h-1zM861 408h1v1h-1zM861 417h1v1h-1zM861 425h1v1h-1zM861 433h1v1h-1zM861 442h1v1h-1zM861 450h1v1h-1zM861 459h1v1h-1zM861 467h1v1h-1zM861 476h1v1h-1zM861 484h1v1h-1zM861 492h1v1h-1zM861 501h1v1h-1zM861 509h1v1h-1zM861 518h1v1h-1zM861 526h1v1h-1zM861 534h1v1h-1zM861 543h1v1h-1zM861 551h1v1h-1zM861 560h1v1h-1zM861 568h1v1h-1zM861 576h1v1h-1zM861 585h1v1h-1zM861 593h1v1h-1zM861 602h1v1h-1zM861 610h1v1h-1zM861 619h1v1h-1zM861 627h1v1h-1zM861 635h1v1h-1zM861 644h1v1h-1zM861 652h1v1h-1zM861 661h1v1h-1zM861 669h1v1h-1zM861 677h1v1h-1zM861 686h1v1h-1zM861 694h1v1h-1zM861 703h1v1h-1zM861 711h1v1h-1zM861 720h1v1h-1zM869 21h1v1h-1zM869 105h1v1h-1zM869 189h1v1h-1zM869 274h1v1h-1zM869 358h1v1h-1zM869 442h1v1h-1zM869 526h1v1h-1zM869 610h1v1h-1zM869 694h1v1h-1zM878 21h1v1h-1zM878 105h1v1h-1zM878 189h1v1h-1zM878 274h1v1h-1zM878 358h1v1h-1zM878 442h1v1h-1zM878 526h1v1h-1zM878 610h1v1h-1zM878 694h1v1h-1zM886 21h1v1h-1zM886 105h1v1h-1zM886 189h1v1h-1zM886 274h1v1h-1zM886 358h1v1h-1zM886 442h1v1h-1zM886 526h1v1h-1zM886 610h1v1h-1zM886 694h1v1h-1zM894 21h1v1h-1zM894 105h1v1h-1zM894 189h1v1h-1zM894 274h1v1h-1zM894 358h1v1h-1zM894 442h1v1h-1zM894 526h1v1h-1zM894 610h1v1h-1zM894 694h1v1h-1zM903 21h1v1h-1zM903 105h1v1h-1zM903 189h1v1h-1zM903 274h1v1h-1zM903 358h1v1h-1zM903 442h1v1h-1zM903 526h1v1h-1zM903 610h1v1h-1zM903 694h1v1h-1zM911 21h1v1h-1zM911 105h1v1h-1zM911 189h1v1h-1zM911 274h1v1h-1zM911 358h1v1h-1zM911 442h1v1h-1zM911 526h1v1h-1zM911 610h1v1h-1zM911 694h1v1h-1zM920 21h1v1h-1zM920 105h1v1h-1zM920 189h1v1h-1zM920 274h1v1h-1zM920 358h1v1h-1zM920 442h1v1h-1zM920 526h1v1h-1zM920 610h1v1h-1zM920 694h1v1h-1zM928 21h1v1h-1zM928 105h1v1h-1zM928 189h1v1h-1zM928 274h1v1h-1zM928 358h1v1h-1zM928 442h1v1h-1zM928 526h1v1h-1zM928 610h1v1h-1zM928 694h1v1h-1zM936 21h1v1h-1zM936 105h1v1h-1zM936 189h1v1h-1zM936 274h1v1h-1zM936 358h1v1h-1zM936 442h1v1h-1zM936 526h1v1h-1zM936 610h1v1h-1zM936 694h1v1h-1zM945 4h1v1h-1zM945 13h1v1h-1zM945 21h1v1h-1zM945 30h1v1h-1zM945 38h1v1h-1zM945 46h1v1h-1zM945 55h1v1h-1zM945 63h1v1h-1zM945 72h1v1h-1zM945 80h1v1h-1zM945 88h1v1h-1zM945 97h1v1h-1zM945 105h1v1h-1zM945 114h1v1h-1zM945 122h1v1h-1zM945 130h1v1h-1zM945 139h1v1h-1zM945 147h1v1h-1zM945 156h1v1h-1zM945 164h1v1h-1zM945 173h1v1h-1zM945 181h1v1h-1zM945 189h1v1h-1zM945 198h1v1h-1zM945 206h1v1h-1zM945 215h1v1h-1zM945 223h1v1h-1zM945 231h1v1h-1zM945 240h1v1h-1zM945 248h1v1h-1zM945 257h1v1h-1zM945 265h1v1h-1zM945 274h1v1h-1zM945 282h1v1h-1zM945 290h1v1h-1zM945 299h1v1h-1zM945 307h1v1h-1zM945 316h1v1h-1zM945 324h1v1h-1zM945 332h1v1h-1zM945 341h1v1h-1zM945 349h1v1h-1zM945 358h1v1h-1zM945 366h1v1h-1zM945 375h1v1h-1zM945 383h1v1h-1zM945 391h1v1h-1zM945 400h1v1h-1zM945 408h1v1h-1zM945 417h1v1h-1zM945 425h1v1h-1zM945 433h1v1h-1zM945 442h1v1h-1zM945 450h1v1h-1zM945 459h1v1h-1zM945 467h1v1h-1zM945 476h1v1h-1zM945 484h1v1h-1zM945 492h1v1h-1zM945 501h1v1h-1zM945 509h1v1h-1zM945 518h1v1h-1zM945 526h1v1h-1zM945 534h1v1h-1zM945 543h1v1h-1zM945 551h1v1h-1zM945 560h1v1h-1zM945 568h1v1h-1zM945 576h1v1h-1zM945 585h1v1h-1zM945 593h1v1h-1zM945 602h1v1h-1zM945 610h1v1h-1zM945 619h1v1h-1zM945 627h1v1h-1zM945 635h1v1h-1zM945 644h1v1h-1zM945 652h1v1h-1zM945 661h1v1h-1zM945 669h1v1h-1zM945 677h1v1h-1zM945 686h1v1h-1zM945 694h1v1h-1zM945 703h1v1h-1zM945 711h1v1h-1zM945 720h1v1h-1zM953 21h1v1h-1zM953 105h1v1h-1zM953 189h1v1h-1zM953 274h1v1h-1zM953 358h1v1h-1zM953 442h1v1h-1zM953 526h1v1h-1zM953 610h1v1h-1zM953 694h1v1h-1zM962 21h1v1h-1zM962 105h1v1h-1zM962 189h1v1h-1zM962 274h1v1h-1zM962 358h1v1h-1zM962 442h1v1h-1zM962 526h1v1h-1zM962 610h1v1h-1zM962 694h1v1h-1zM970 21h1v1h-1zM970 105h1v1h-1zM970 189h1v1h-1zM970 274h1v1h-1zM970 358h1v1h-1zM970 442h1v1h-1zM970 526h1v1h-1zM970 610h1v1h-1zM970 694h1v1h-1zM979 21h1v1h-1zM979 105h1v1h-1zM979 189h1v1h-1zM979 274h1v1h-1zM979 358h1v1h-1zM979 442h1v1h-1zM979 526h1v1h-1zM979 610h1v1h-1zM979 694h1v1h-1zM987 21h1v1h-1zM987 105h1v1h-1zM987 189h1v1h-1zM987 274h1v1h-1zM987 358h1v1h-1zM987 442h1v1h-1zM987 526h1v1h-1zM987 610h1v1h-1zM987 694h1v1h-1zM995 21h1v1h-1zM995 105h1v1h-1zM995 189h1v1h-1zM995 274h1v1h-1zM995 358h1v1h-1zM995 442h1v1h-1zM995 526h1v1h-1zM995 610h1v1h-1zM995 694h1v1h-1zM1004 21h1v1h-1zM1004 105h1v1h-1zM1004 189h1v1h-1zM1004 274h1v1h-1zM1004 358h1v1h-1zM1004 442h1v1h-1zM1004 526h1v1h-1zM1004 610h1v1h-1zM1004 694h1v1h-1zM1012 21h1v1h-1zM1012 105h1v1h-1zM1012 189h1v1h-1zM1012 274h1v1h-1zM1012 358h1v1h-1zM1012 442h1v1h-1zM1012 526h1v1h-1zM1012 610h1v1h-1zM1012 694h1v1h-1zM1021 21h1v1h-1zM1021 105h1v1h-1zM1021 189h1v1h-1zM1021 274h1v1h-1zM1021 358h1v1h-1zM1021 442h1v1h-1zM1021 526h1v1h-1zM1021 610h1v1h-1zM1021 694h1v1h-1zM1029 4h1v1h-1zM1029 13h1v1h-1zM1029 21h1v1h-1zM1029 30h1v1h-1zM1029 38h1v1h-1zM1029 46h1v1h-1zM1029 55h1v1h-1zM1029 63h1v1h-1zM1029 72h1v1h-1zM1029 80h1v1h-1zM1029 88h1v1h-1zM1029 97h1v1h-1zM1029 105h1v1h-1zM1029 114h1v1h-1zM1029 122h1v1h-1zM1029 130h1v1h-1zM1029 139h1v1h-1zM1029 147h1v1h-1zM1029 156h1v1h-1zM1029 164h1v1h-1zM1029 173h1v1h-1zM1029 181h1v1h-1zM1029 189h1v1h-1zM1029 198h1v1h-1zM1029 206h1v1h-1zM1029 215h1v1h-1zM1029 223h1v1h-1zM1029 231h1v1h-1zM1029 240h1v1h-1zM1029 248h1v1h-1zM1029 257h1v1h-1zM1029 265h1v1h-1zM1029 274h1v1h-1zM1029 282h1v1h-1zM1029 290h1v1h-1zM1029 299h1v1h-1zM1029 307h1v1h-1zM1029 316h1v1h-1zM1029 324h1v1h-1zM1029 332h1v1h-1zM1029 341h1v1h-1zM1029 349h1v1h-1zM1029 358h1v1h-1zM1029 366h1v1h-1zM1029 375h1v1h-1zM1029 383h1v1h-1zM1029 391h1v1h-1zM1029 400h1v1h-1zM1029 408h1v1h-1zM1029 417h1v1h-1zM1029 425h1v1h-1zM1029 433h1v1h-1zM1029 442h1v1h-1zM1029 450h1v1h-1zM1029 459h1v1h-1zM1029 467h1v1h-1zM1029 476h1v1h-1zM1029 484h1v1h-1zM1029 492h1v1h-1zM1029 501h1v1h-1zM1029 509h1v1h-1zM1029 518h1v1h-1zM1029 526h1v1h-1zM1029 534h1v1h-1zM1029 543h1v1h-1zM1029 551h1v1h-1zM1029 560h1v1h-1zM1029 568h1v1h-1zM1029 576h1v1h-1zM1029 585h1v1h-1zM1029 593h1v1h-1zM1029 602h1v1h-1zM1029 610h1v1h-1zM1029 619h1v1h-1zM1029 627h1v1h-1zM1029 635h1v1h-1zM1029 644h1v1h-1zM1029 652h1v1h-1zM1029 661h1v1h-1zM1029 669h1v1h-1zM1029 677h1v1h-1zM1029 686h1v1h-1zM1029 694h1v1h-1zM1029 703h1v1h-1zM1029 711h1v1h-1zM1029 720h1v1h-1zM1037 21h1v1h-1zM1037 105h1v1h-1zM1037 189h1v1h-1zM1037 274h1v1h-1zM1037 358h1v1h-1zM1037 442h1v1h-1zM1037 526h1v1h-1zM1037 610h1v1h-1zM1037 694h1v1h-1zM1046 21h1v1h-1zM1046 105h1v1h-1zM1046 189h1v1h-1zM1046 274h1v1h-1zM1046 358h1v1h-1zM1046 442h1v1h-1zM1046 526h1v1h-1zM1046 610h1v1h-1zM1046 694h1v1h-1zM1054 21h1v1h-1zM1054 105h1v1h-1zM1054 189h1v1h-1zM1054 274h1v1h-1zM1054 358h1v1h-1zM1054 442h1v1h-1zM1054 526h1v1h-1zM1054 610h1v1h-1zM1054 694h1v1h-1zM1063 21h1v1h-1zM1063 105h1v1h-1zM1063 189h1v1h-1zM1063 274h1v1h-1zM1063 358h1v1h-1zM1063 442h1v1h-1zM1063 526h1v1h-1zM1063 610h1v1h-1zM1063 694h1v1h-1zM1071 21h1v1h-1zM1071 105h1v1h-1zM1071 189h1v1h-1zM1071 274h1v1h-1zM1071 358h1v1h-1zM1071 442h1v1h-1zM1071 526h1v1h-1zM1071 610h1v1h-1zM1071 694h1v1h-1zM1079 21h1v1h-1zM1079 105h1v1h-1zM1079 189h1v1h-1zM1079 274h1v1h-1zM1079 358h1v1h-1zM1079 442h1v1h-1zM1079 526h1v1h-1zM1079 610h1v1h-1zM1079 694h1v1h-1zM1088 21h1v1h-1zM1088 105h1v1h-1zM1088 189h1v1h-1zM1088 274h1v1h-1zM1088 358h1v1h-1zM1088 442h1v1h-1zM1088 526h1v1h-1zM1088 610h1v1h-1zM1088 694h1v1h-1zM1096 21h1v1h-1zM1096 105h1v1h-1zM1096 189h1v1h-1zM1096 274h1v1h-1zM1096 358h1v1h-1zM1096 442h1v1h-1zM1096 526h1v1h-1zM1096 610h1v1h-1zM1096 694h1v1h-1zM1105 21h1v1h-1zM1105 105h1v1h-1zM1105 189h1v1h-1zM1105 274h1v1h-1zM1105 358h1v1h-1zM1105 442h1v1h-1zM1105 526h1v1h-1zM1105 610h1v1h-1zM1105 694h1v1h-1zM1113 4h1v1h-1zM1113 13h1v1h-1zM1113 21h1v1h-1zM1113 30h1v1h-1zM1113 38h1v1h-1zM1113 46h1v1h-1zM1113 55h1v1h-1zM1113 63h1v1h-1zM1113 72h1v1h-1zM1113 80h1v1h-1zM1113 88h1v1h-1zM1113 97h1v1h-1zM1113 105h1v1h-1zM1113 114h1v1h-1zM1113 122h1v1h-1zM1113 130h1v1h-1zM1113 139h1v1h-1zM1113 147h1v1h-1zM1113 156h1v1h-1zM1113 164h1v1h-1zM1113 173h1v1h-1zM1113 181h1v1h-1zM1113 189h1v1h-1zM1113 198h1v1h-1zM1113 206h1v1h-1zM1113 215h1v1h-1zM1113 223h1v1h-1zM1113 231h1v1h-1zM1113 240h1v1h-1zM1113 248h1v1h-1zM1113 257h1v1h-1zM1113 265h1v1h-1zM1113 274h1v1h-1zM1113 282h1v1h-1zM1113 290h1v1h-1zM1113 299h1v1h-1zM1113 307h1v1h-1zM1113 316h1v1h-1zM1113 324h1v1h-1zM1113 332h1v1h-1zM1113 341h1v1h-1zM1113 349h1v1h-1zM1113 358h1v1h-1zM1113 366h1v1h-1zM1113 375h1v1h-1zM1113 383h1v1h-1zM1113 391h1v1h-1zM1113 400h1v1h-1zM1113 408h1v1h-1zM1113 417h1v1h-1zM1113 425h1v1h-1zM1113 433h1v1h-1zM1113 442h1v1h-1zM1113 450h1v1h-1zM1113 459h1v1h-1zM1113 467h1v1h-1zM1113 476h1v1h-1zM1113 484h1v1h-1zM1113 492h1v1h-1zM1113 501h1v1h-1zM1113 509h1v1h-1zM1113 518h1v1h-1zM1113 526h1v1h-1zM1113 534h1v1h-1zM1113 543h1v1h-1zM1113 551h1v1h-1zM1113 560h1v1h-1zM1113 568h1v1h-1zM1113 576h1v1h-1zM1113 585h1v1h-1zM1113 593h1v1h-1zM1113 602h1v1h-1zM1113 610h1v1h-1zM1113 619h1v1h-1zM1113 627h1v1h-1zM1113 635h1v1h-1zM1113 644h1v1h-1zM1113 652h1v1h-1zM1113 661h1v1h-1zM1113 669h1v1h-1zM1113 677h1v1h-1zM1113 686h1v1h-1zM1113 694h1v1h-1zM1113 703h1v1h-1zM1113 711h1v1h-1zM1113 720h1v1h-1zM1122 21h1v1h-1zM1122 105h1v1h-1zM1122 189h1v1h-1zM1122 274h1v1h-1zM1122 358h1v1h-1zM1122 442h1v1h-1zM1122 526h1v1h-1zM1122 610h1v1h-1zM1122 694h1v1h-1zM1130 21h1v1h-1zM1130 105h1v1h-1zM1130 189h1v1h-1zM1130 274h1v1h-1zM1130 358h1v1h-1zM1130 442h1v1h-1zM1130 526h1v1h-1zM1130 610h1v1h-1zM1130 694h1v1h-1zM1138 21h1v1h-1zM1138 105h1v1h-1zM1138 189h1v1h-1zM1138 274h1v1h-1zM1138 358h1v1h-1zM1138 442h1v1h-1zM1138 526h1v1h-1zM1138 610h1v1h-1zM1138 694h1v1h-1zM1147 21h1v1h-1zM1147 105h1v1h-1zM1147 189h1v1h-1zM1147 274h1v1h-1zM1147 358h1v1h-1zM1147 442h1v1h-1zM1147 526h1v1h-1zM1147 610h1v1h-1zM1147 694h1v1h-1zM1155 21h1v1h-1zM1155 105h1v1h-1zM1155 189h1v1h-1zM1155 274h1v1h-1zM1155 358h1v1h-1zM1155 442h1v1h-1zM1155 526h1v1h-1zM1155 610h1v1h-1zM1155 694h1v1h-1zM1164 21h1v1h-1zM1164 105h1v1h-1zM1164 189h1v1h-1zM1164 274h1v1h-1zM1164 358h1v1h-1zM1164 442h1v1h-1zM1164 526h1v1h-1zM1164 610h1v1h-1zM1164 694h1v1h-1zM1172 21h1v1h-1zM1172 105h1v1h-1zM1172 189h1v1h-1zM1172 274h1v1h-1zM1172 358h1v1h-1zM1172 442h1v1h-1zM1172 526h1v1h-1zM1172 610h1v1h-1zM1172 694h1v1h-1zM1180 21h1v1h-1zM1180 105h1v1h-1zM1180 189h1v1h-1zM1180 274h1v1h-1zM1180 358h1v1h-1zM1180 442h1v1h-1zM1180 526h1v1h-1zM1180 610h1v1h-1zM1180 694h1v1h-1zM1189 21h1v1h-1zM1189 105h1v1h-1zM1189 189h1v1h-1zM1189 274h1v1h-1zM1189 358h1v1h-1zM1189 442h1v1h-1zM1189 526h1v1h-1zM1189 610h1v1h-1zM1189 694h1v1h-1zM1197 4h1v1h-1zM1197 13h1v1h-1zM1197 21h1v1h-1zM1197 30h1v1h-1zM1197 38h1v1h-1zM1197 46h1v1h-1zM1197 55h1v1h-1zM1197 63h1v1h-1zM1197 72h1v1h-1zM1197 80h1v1h-1zM1197 88h1v1h-1zM1197 97h1v1h-1zM1197 105h1v1h-1zM1197 114h1v1h-1zM1197 122h1v1h-1zM1197 130h1v1h-1zM1197 139h1v1h-1zM1197 147h1v1h-1zM1197 156h1v1h-1zM1197 164h1v1h-1zM1197 173h1v1h-1zM1197 181h1v1h-1zM1197 189h1v1h-1zM1197 198h1v1h-1zM1197 206h1v1h-1zM1197 215h1v1h-1zM1197 223h1v1h-1zM1197 231h1v1h-1zM1197 240h1v1h-1zM1197 248h1v1h-1zM1197 257h1v1h-1zM1197 265h1v1h-1zM1197 274h1v1h-1zM1197 282h1v1h-1zM1197 290h1v1h-1zM1197 299h1v1h-1zM1197 307h1v1h-1zM1197 316h1v1h-1zM1197 324h1v1h-1zM1197 332h1v1h-1zM1197 341h1v1h-1zM1197 349h1v1h-1zM1197 358h1v1h-1zM1197 366h1v1h-1zM1197 375h1v1h-1zM1197 383h1v1h-1zM1197 391h1v1h-1zM1197 400h1v1h-1zM1197 408h1v1h-1zM1197 417h1v1h-1zM1197 425h1v1h-1zM1197 433h1v1h-1zM1197 442h1v1h-1zM1197 450h1v1h-1zM1197 459h1v1h-1zM1197 467h1v1h-1zM1197 476h1v1h-1zM1197 484h1v1h-1zM1197 492h1v1h-1zM1197 501h1v1h-1zM1197 509h1v1h-1zM1197 518h1v1h-1zM1197 526h1v1h-1zM1197 534h1v1h-1zM1197 543h1v1h-1zM1197 551h1v1h-1zM1197 560h1v1h-1zM1197 568h1v1h-1zM1197 576h1v1h-1zM1197 585h1v1h-1zM1197 593h1v1h-1zM1197 602h1v1h-1zM1197 610h1v1h-1zM1197 619h1v1h-1zM1197 627h1v1h-1zM1197 635h1v1h-1zM1197 644h1v1h-1zM1197 652h1v1h-1zM1197 661h1v1h-1zM1197 669h1v1h-1zM1197 677h1v1h-1zM1197 686h1v1h-1zM1197 694h1v1h-1zM1197 703h1v1h-1zM1197 711h1v1h-1zM1197 720h1v1h-1zM1206 21h1v1h-1zM1206 105h1v1h-1zM1206 189h1v1h-1zM1206 274h1v1h-1zM1206 358h1v1h-1zM1206 442h1v1h-1zM1206 526h1v1h-1zM1206 610h1v1h-1zM1206 694h1v1h-1zM1214 21h1v1h-1zM1214 105h1v1h-1zM1214 189h1v1h-1zM1214 274h1v1h-1zM1214 358h1v1h-1zM1214 442h1v1h-1zM1214 526h1v1h-1zM1214 610h1v1h-1zM1214 694h1v1h-1zM1223 21h1v1h-1zM1223 105h1v1h-1zM1223 189h1v1h-1zM1223 274h1v1h-1zM1223 358h1v1h-1zM1223 442h1v1h-1zM1223 526h1v1h-1zM1223 610h1v1h-1zM1223 694h1v1h-1zM1231 21h1v1h-1zM1231 105h1v1h-1zM1231 189h1v1h-1zM1231 274h1v1h-1zM1231 358h1v1h-1zM1231 442h1v1h-1zM1231 526h1v1h-1zM1231 610h1v1h-1zM1231 694h1v1h-1zM1239 21h1v1h-1zM1239 105h1v1h-1zM1239 189h1v1h-1zM1239 274h1v1h-1zM1239 358h1v1h-1zM1239 442h1v1h-1zM1239 526h1v1h-1zM1239 610h1v1h-1zM1239 694h1v1h-1zM1248 21h1v1h-1zM1248 105h1v1h-1zM1248 189h1v1h-1zM1248 274h1v1h-1zM1248 358h1v1h-1zM1248 442h1v1h-1zM1248 526h1v1h-1zM1248 610h1v1h-1zM1248 694h1v1h-1zM1256 21h1v1h-1zM1256 105h1v1h-1zM1256 189h1v1h-1zM1256 274h1v1h-1zM1256 358h1v1h-1zM1256 442h1v1h-1zM1256 526h1v1h-1zM1256 610h1v1h-1zM1256 694h1v1h-1zM1265 21h1v1h-1zM1265 105h1v1h-1zM1265 189h1v1h-1zM1265 274h1v1h-1zM1265 358h1v1h-1zM1265 442h1v1h-1zM1265 526h1v1h-1zM1265 610h1v1h-1zM1265 694h1v1h-1z" fill="#949494"/></svg>
</body></html>
